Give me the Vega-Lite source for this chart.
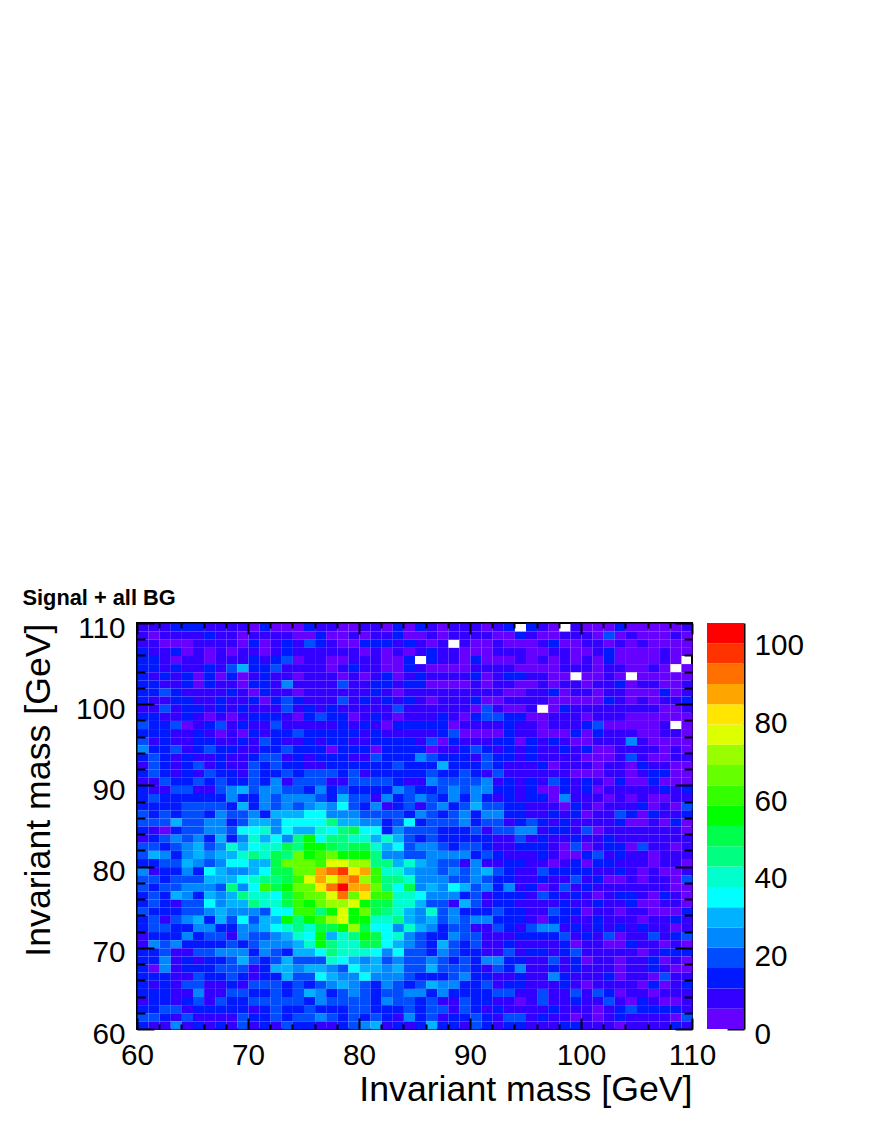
{"$schema":"https://vega.github.io/schema/vega-lite/v6.json","padding":{"left":19,"top":588,"right":0,"bottom":0},"background":"white","spacing":15,"bounds":"flush","config":{"view":{"stroke":null},"font":"Liberation Sans"},"title":{"text":"Signal + all BG","anchor":"start","frame":"bounds","fontSize":21.8,"fontWeight":"bold","font":"Liberation Sans","offset":2,"dx":3},"hconcat":[{"width":555,"height":406,"view":{"stroke":"black","strokeWidth":2},"layer":[{"data":{"values":[
{"x":60,"y":109,"n":8},{"x":61,"y":109,"n":8},{"x":62,"y":109,"n":8},{"x":63,"y":109,"n":13},{"x":64,"y":109,"n":13},{"x":65,"y":109,"n":13},{"x":66,"y":109,"n":8},{"x":67,"y":109,"n":8},{"x":68,"y":109,"n":8},{"x":69,"y":109,"n":8},{"x":70,"y":109,"n":3},{"x":71,"y":109,"n":13},{"x":72,"y":109,"n":3},{"x":73,"y":109,"n":3},{"x":74,"y":109,"n":3},{"x":75,"y":109,"n":13},{"x":76,"y":109,"n":8},{"x":77,"y":109,"n":8},{"x":78,"y":109,"n":3},{"x":79,"y":109,"n":3},{"x":80,"y":109,"n":8},{"x":81,"y":109,"n":8},{"x":82,"y":109,"n":3},{"x":83,"y":109,"n":13},{"x":84,"y":109,"n":3},{"x":85,"y":109,"n":13},{"x":86,"y":109,"n":8},{"x":87,"y":109,"n":3},{"x":88,"y":109,"n":8},{"x":89,"y":109,"n":8},{"x":90,"y":109,"n":8},{"x":91,"y":109,"n":3},{"x":92,"y":109,"n":8},{"x":93,"y":109,"n":13},{"x":95,"y":109,"n":13},{"x":96,"y":109,"n":8},{"x":97,"y":109,"n":3},{"x":99,"y":109,"n":8},{"x":100,"y":109,"n":3},{"x":101,"y":109,"n":3},{"x":102,"y":109,"n":3},{"x":103,"y":109,"n":13},{"x":104,"y":109,"n":3},{"x":105,"y":109,"n":3},{"x":106,"y":109,"n":3},{"x":107,"y":109,"n":3},{"x":108,"y":109,"n":3},{"x":109,"y":109,"n":8},
{"x":60,"y":108,"n":8},{"x":61,"y":108,"n":3},{"x":62,"y":108,"n":8},{"x":63,"y":108,"n":8},{"x":64,"y":108,"n":8},{"x":65,"y":108,"n":8},{"x":66,"y":108,"n":13},{"x":67,"y":108,"n":8},{"x":68,"y":108,"n":8},{"x":69,"y":108,"n":3},{"x":70,"y":108,"n":8},{"x":71,"y":108,"n":8},{"x":72,"y":108,"n":8},{"x":73,"y":108,"n":8},{"x":74,"y":108,"n":3},{"x":75,"y":108,"n":3},{"x":76,"y":108,"n":13},{"x":77,"y":108,"n":3},{"x":78,"y":108,"n":3},{"x":79,"y":108,"n":8},{"x":80,"y":108,"n":3},{"x":81,"y":108,"n":8},{"x":82,"y":108,"n":8},{"x":83,"y":108,"n":13},{"x":84,"y":108,"n":3},{"x":85,"y":108,"n":3},{"x":86,"y":108,"n":8},{"x":87,"y":108,"n":3},{"x":88,"y":108,"n":8},{"x":89,"y":108,"n":8},{"x":90,"y":108,"n":8},{"x":91,"y":108,"n":8},{"x":92,"y":108,"n":3},{"x":93,"y":108,"n":3},{"x":94,"y":108,"n":13},{"x":95,"y":108,"n":8},{"x":96,"y":108,"n":3},{"x":97,"y":108,"n":3},{"x":98,"y":108,"n":8},{"x":99,"y":108,"n":8},{"x":100,"y":108,"n":8},{"x":101,"y":108,"n":3},{"x":102,"y":108,"n":18},{"x":103,"y":108,"n":3},{"x":104,"y":108,"n":8},{"x":105,"y":108,"n":3},{"x":106,"y":108,"n":3},{"x":107,"y":108,"n":3},{"x":108,"y":108,"n":8},{"x":109,"y":108,"n":3},
{"x":60,"y":107,"n":8},{"x":61,"y":107,"n":8},{"x":62,"y":107,"n":3},{"x":63,"y":107,"n":3},{"x":64,"y":107,"n":3},{"x":65,"y":107,"n":8},{"x":66,"y":107,"n":8},{"x":67,"y":107,"n":8},{"x":68,"y":107,"n":8},{"x":69,"y":107,"n":3},{"x":70,"y":107,"n":13},{"x":71,"y":107,"n":3},{"x":72,"y":107,"n":8},{"x":73,"y":107,"n":13},{"x":74,"y":107,"n":8},{"x":75,"y":107,"n":18},{"x":76,"y":107,"n":13},{"x":77,"y":107,"n":8},{"x":78,"y":107,"n":3},{"x":79,"y":107,"n":3},{"x":80,"y":107,"n":13},{"x":81,"y":107,"n":13},{"x":82,"y":107,"n":13},{"x":83,"y":107,"n":8},{"x":84,"y":107,"n":13},{"x":85,"y":107,"n":8},{"x":86,"y":107,"n":3},{"x":87,"y":107,"n":8},{"x":89,"y":107,"n":8},{"x":90,"y":107,"n":3},{"x":91,"y":107,"n":3},{"x":92,"y":107,"n":8},{"x":93,"y":107,"n":3},{"x":94,"y":107,"n":3},{"x":95,"y":107,"n":3},{"x":96,"y":107,"n":8},{"x":97,"y":107,"n":13},{"x":98,"y":107,"n":3},{"x":99,"y":107,"n":3},{"x":100,"y":107,"n":8},{"x":101,"y":107,"n":8},{"x":102,"y":107,"n":3},{"x":103,"y":107,"n":8},{"x":104,"y":107,"n":3},{"x":105,"y":107,"n":8},{"x":106,"y":107,"n":3},{"x":107,"y":107,"n":3},{"x":108,"y":107,"n":3},{"x":109,"y":107,"n":3},
{"x":60,"y":106,"n":13},{"x":61,"y":106,"n":8},{"x":62,"y":106,"n":8},{"x":63,"y":106,"n":13},{"x":64,"y":106,"n":3},{"x":65,"y":106,"n":8},{"x":66,"y":106,"n":3},{"x":67,"y":106,"n":8},{"x":68,"y":106,"n":3},{"x":69,"y":106,"n":8},{"x":70,"y":106,"n":8},{"x":71,"y":106,"n":3},{"x":72,"y":106,"n":8},{"x":73,"y":106,"n":13},{"x":74,"y":106,"n":8},{"x":75,"y":106,"n":8},{"x":76,"y":106,"n":8},{"x":77,"y":106,"n":8},{"x":78,"y":106,"n":8},{"x":79,"y":106,"n":8},{"x":80,"y":106,"n":3},{"x":81,"y":106,"n":8},{"x":82,"y":106,"n":3},{"x":83,"y":106,"n":8},{"x":84,"y":106,"n":3},{"x":85,"y":106,"n":8},{"x":86,"y":106,"n":13},{"x":87,"y":106,"n":8},{"x":88,"y":106,"n":8},{"x":89,"y":106,"n":3},{"x":90,"y":106,"n":3},{"x":91,"y":106,"n":3},{"x":92,"y":106,"n":8},{"x":93,"y":106,"n":8},{"x":94,"y":106,"n":8},{"x":95,"y":106,"n":3},{"x":96,"y":106,"n":3},{"x":97,"y":106,"n":8},{"x":98,"y":106,"n":8},{"x":99,"y":106,"n":3},{"x":100,"y":106,"n":3},{"x":101,"y":106,"n":8},{"x":102,"y":106,"n":13},{"x":103,"y":106,"n":3},{"x":104,"y":106,"n":3},{"x":105,"y":106,"n":3},{"x":106,"y":106,"n":3},{"x":107,"y":106,"n":8},{"x":108,"y":106,"n":3},{"x":109,"y":106,"n":3},
{"x":60,"y":105,"n":13},{"x":61,"y":105,"n":13},{"x":62,"y":105,"n":8},{"x":63,"y":105,"n":3},{"x":64,"y":105,"n":8},{"x":65,"y":105,"n":8},{"x":66,"y":105,"n":3},{"x":67,"y":105,"n":8},{"x":68,"y":105,"n":8},{"x":69,"y":105,"n":8},{"x":70,"y":105,"n":13},{"x":71,"y":105,"n":8},{"x":72,"y":105,"n":13},{"x":73,"y":105,"n":18},{"x":74,"y":105,"n":3},{"x":75,"y":105,"n":8},{"x":76,"y":105,"n":8},{"x":77,"y":105,"n":3},{"x":78,"y":105,"n":3},{"x":79,"y":105,"n":8},{"x":80,"y":105,"n":8},{"x":81,"y":105,"n":8},{"x":82,"y":105,"n":3},{"x":83,"y":105,"n":3},{"x":84,"y":105,"n":13},{"x":86,"y":105,"n":13},{"x":87,"y":105,"n":8},{"x":88,"y":105,"n":8},{"x":89,"y":105,"n":3},{"x":90,"y":105,"n":13},{"x":91,"y":105,"n":3},{"x":92,"y":105,"n":3},{"x":93,"y":105,"n":3},{"x":94,"y":105,"n":8},{"x":95,"y":105,"n":3},{"x":96,"y":105,"n":8},{"x":97,"y":105,"n":3},{"x":98,"y":105,"n":8},{"x":99,"y":105,"n":3},{"x":100,"y":105,"n":8},{"x":101,"y":105,"n":3},{"x":102,"y":105,"n":13},{"x":103,"y":105,"n":3},{"x":104,"y":105,"n":3},{"x":105,"y":105,"n":3},{"x":106,"y":105,"n":3},{"x":107,"y":105,"n":8},{"x":108,"y":105,"n":3},
{"x":60,"y":104,"n":13},{"x":61,"y":104,"n":13},{"x":62,"y":104,"n":8},{"x":63,"y":104,"n":13},{"x":64,"y":104,"n":8},{"x":65,"y":104,"n":8},{"x":66,"y":104,"n":13},{"x":67,"y":104,"n":8},{"x":68,"y":104,"n":18},{"x":69,"y":104,"n":29},{"x":70,"y":104,"n":13},{"x":71,"y":104,"n":13},{"x":72,"y":104,"n":18},{"x":73,"y":104,"n":8},{"x":74,"y":104,"n":8},{"x":75,"y":104,"n":8},{"x":76,"y":104,"n":8},{"x":77,"y":104,"n":3},{"x":78,"y":104,"n":8},{"x":79,"y":104,"n":13},{"x":80,"y":104,"n":8},{"x":81,"y":104,"n":8},{"x":82,"y":104,"n":3},{"x":83,"y":104,"n":3},{"x":84,"y":104,"n":13},{"x":85,"y":104,"n":8},{"x":86,"y":104,"n":3},{"x":87,"y":104,"n":3},{"x":88,"y":104,"n":3},{"x":89,"y":104,"n":3},{"x":90,"y":104,"n":8},{"x":91,"y":104,"n":8},{"x":92,"y":104,"n":8},{"x":93,"y":104,"n":8},{"x":94,"y":104,"n":3},{"x":95,"y":104,"n":3},{"x":96,"y":104,"n":3},{"x":97,"y":104,"n":3},{"x":98,"y":104,"n":8},{"x":99,"y":104,"n":8},{"x":100,"y":104,"n":8},{"x":101,"y":104,"n":3},{"x":102,"y":104,"n":8},{"x":103,"y":104,"n":8},{"x":104,"y":104,"n":3},{"x":105,"y":104,"n":3},{"x":106,"y":104,"n":8},{"x":107,"y":104,"n":3},{"x":109,"y":104,"n":3},
{"x":60,"y":103,"n":13},{"x":61,"y":103,"n":8},{"x":62,"y":103,"n":13},{"x":63,"y":103,"n":8},{"x":64,"y":103,"n":13},{"x":65,"y":103,"n":3},{"x":66,"y":103,"n":13},{"x":67,"y":103,"n":3},{"x":68,"y":103,"n":13},{"x":69,"y":103,"n":3},{"x":70,"y":103,"n":8},{"x":71,"y":103,"n":13},{"x":72,"y":103,"n":8},{"x":73,"y":103,"n":8},{"x":74,"y":103,"n":3},{"x":75,"y":103,"n":8},{"x":76,"y":103,"n":8},{"x":77,"y":103,"n":8},{"x":78,"y":103,"n":3},{"x":79,"y":103,"n":8},{"x":80,"y":103,"n":3},{"x":81,"y":103,"n":8},{"x":82,"y":103,"n":13},{"x":83,"y":103,"n":3},{"x":84,"y":103,"n":8},{"x":85,"y":103,"n":13},{"x":86,"y":103,"n":8},{"x":87,"y":103,"n":8},{"x":88,"y":103,"n":8},{"x":89,"y":103,"n":8},{"x":90,"y":103,"n":13},{"x":91,"y":103,"n":3},{"x":92,"y":103,"n":8},{"x":93,"y":103,"n":13},{"x":94,"y":103,"n":13},{"x":95,"y":103,"n":8},{"x":96,"y":103,"n":8},{"x":97,"y":103,"n":3},{"x":98,"y":103,"n":3},{"x":100,"y":103,"n":3},{"x":101,"y":103,"n":3},{"x":102,"y":103,"n":8},{"x":103,"y":103,"n":3},{"x":105,"y":103,"n":3},{"x":106,"y":103,"n":3},{"x":107,"y":103,"n":3},{"x":108,"y":103,"n":3},{"x":109,"y":103,"n":3},
{"x":60,"y":102,"n":13},{"x":61,"y":102,"n":13},{"x":62,"y":102,"n":8},{"x":63,"y":102,"n":8},{"x":64,"y":102,"n":13},{"x":65,"y":102,"n":3},{"x":66,"y":102,"n":13},{"x":67,"y":102,"n":8},{"x":68,"y":102,"n":8},{"x":69,"y":102,"n":3},{"x":70,"y":102,"n":13},{"x":71,"y":102,"n":13},{"x":72,"y":102,"n":8},{"x":73,"y":102,"n":24},{"x":74,"y":102,"n":8},{"x":75,"y":102,"n":8},{"x":76,"y":102,"n":8},{"x":77,"y":102,"n":8},{"x":78,"y":102,"n":18},{"x":79,"y":102,"n":8},{"x":80,"y":102,"n":8},{"x":81,"y":102,"n":13},{"x":82,"y":102,"n":13},{"x":83,"y":102,"n":8},{"x":84,"y":102,"n":13},{"x":85,"y":102,"n":13},{"x":86,"y":102,"n":3},{"x":87,"y":102,"n":3},{"x":88,"y":102,"n":3},{"x":89,"y":102,"n":3},{"x":90,"y":102,"n":8},{"x":91,"y":102,"n":3},{"x":92,"y":102,"n":8},{"x":93,"y":102,"n":8},{"x":94,"y":102,"n":3},{"x":95,"y":102,"n":3},{"x":96,"y":102,"n":8},{"x":97,"y":102,"n":3},{"x":98,"y":102,"n":8},{"x":99,"y":102,"n":8},{"x":100,"y":102,"n":3},{"x":101,"y":102,"n":8},{"x":102,"y":102,"n":8},{"x":103,"y":102,"n":13},{"x":104,"y":102,"n":3},{"x":105,"y":102,"n":8},{"x":106,"y":102,"n":8},{"x":107,"y":102,"n":3},{"x":108,"y":102,"n":3},{"x":109,"y":102,"n":8},
{"x":60,"y":101,"n":13},{"x":61,"y":101,"n":13},{"x":62,"y":101,"n":18},{"x":63,"y":101,"n":13},{"x":64,"y":101,"n":8},{"x":65,"y":101,"n":8},{"x":66,"y":101,"n":8},{"x":67,"y":101,"n":8},{"x":68,"y":101,"n":13},{"x":69,"y":101,"n":8},{"x":70,"y":101,"n":3},{"x":71,"y":101,"n":13},{"x":72,"y":101,"n":8},{"x":73,"y":101,"n":8},{"x":74,"y":101,"n":3},{"x":75,"y":101,"n":8},{"x":76,"y":101,"n":8},{"x":77,"y":101,"n":8},{"x":78,"y":101,"n":8},{"x":79,"y":101,"n":8},{"x":80,"y":101,"n":8},{"x":81,"y":101,"n":13},{"x":82,"y":101,"n":8},{"x":83,"y":101,"n":3},{"x":84,"y":101,"n":8},{"x":85,"y":101,"n":8},{"x":86,"y":101,"n":8},{"x":87,"y":101,"n":8},{"x":88,"y":101,"n":8},{"x":89,"y":101,"n":8},{"x":90,"y":101,"n":8},{"x":91,"y":101,"n":8},{"x":92,"y":101,"n":8},{"x":93,"y":101,"n":3},{"x":94,"y":101,"n":3},{"x":95,"y":101,"n":8},{"x":96,"y":101,"n":8},{"x":97,"y":101,"n":13},{"x":98,"y":101,"n":3},{"x":99,"y":101,"n":8},{"x":100,"y":101,"n":8},{"x":101,"y":101,"n":3},{"x":102,"y":101,"n":8},{"x":103,"y":101,"n":8},{"x":104,"y":101,"n":3},{"x":105,"y":101,"n":3},{"x":106,"y":101,"n":3},{"x":107,"y":101,"n":13},{"x":108,"y":101,"n":3},{"x":109,"y":101,"n":8},
{"x":60,"y":100,"n":13},{"x":61,"y":100,"n":8},{"x":62,"y":100,"n":8},{"x":63,"y":100,"n":13},{"x":64,"y":100,"n":13},{"x":65,"y":100,"n":8},{"x":66,"y":100,"n":8},{"x":67,"y":100,"n":13},{"x":68,"y":100,"n":8},{"x":69,"y":100,"n":8},{"x":70,"y":100,"n":13},{"x":71,"y":100,"n":3},{"x":72,"y":100,"n":13},{"x":73,"y":100,"n":18},{"x":74,"y":100,"n":13},{"x":75,"y":100,"n":8},{"x":76,"y":100,"n":8},{"x":77,"y":100,"n":8},{"x":78,"y":100,"n":18},{"x":79,"y":100,"n":8},{"x":80,"y":100,"n":13},{"x":81,"y":100,"n":8},{"x":82,"y":100,"n":13},{"x":83,"y":100,"n":8},{"x":84,"y":100,"n":13},{"x":85,"y":100,"n":8},{"x":86,"y":100,"n":3},{"x":87,"y":100,"n":8},{"x":88,"y":100,"n":8},{"x":89,"y":100,"n":8},{"x":90,"y":100,"n":13},{"x":91,"y":100,"n":3},{"x":92,"y":100,"n":3},{"x":93,"y":100,"n":8},{"x":94,"y":100,"n":8},{"x":95,"y":100,"n":8},{"x":96,"y":100,"n":8},{"x":97,"y":100,"n":3},{"x":98,"y":100,"n":3},{"x":99,"y":100,"n":3},{"x":100,"y":100,"n":3},{"x":101,"y":100,"n":3},{"x":102,"y":100,"n":13},{"x":103,"y":100,"n":8},{"x":104,"y":100,"n":3},{"x":105,"y":100,"n":8},{"x":106,"y":100,"n":3},{"x":107,"y":100,"n":8},{"x":108,"y":100,"n":8},{"x":109,"y":100,"n":13},
{"x":60,"y":99,"n":8},{"x":61,"y":99,"n":8},{"x":62,"y":99,"n":18},{"x":63,"y":99,"n":8},{"x":64,"y":99,"n":13},{"x":65,"y":99,"n":13},{"x":66,"y":99,"n":8},{"x":67,"y":99,"n":13},{"x":68,"y":99,"n":8},{"x":69,"y":99,"n":13},{"x":70,"y":99,"n":8},{"x":71,"y":99,"n":8},{"x":72,"y":99,"n":8},{"x":73,"y":99,"n":18},{"x":74,"y":99,"n":8},{"x":75,"y":99,"n":13},{"x":76,"y":99,"n":8},{"x":77,"y":99,"n":13},{"x":78,"y":99,"n":8},{"x":79,"y":99,"n":8},{"x":80,"y":99,"n":8},{"x":81,"y":99,"n":8},{"x":82,"y":99,"n":8},{"x":83,"y":99,"n":18},{"x":84,"y":99,"n":8},{"x":85,"y":99,"n":8},{"x":86,"y":99,"n":8},{"x":87,"y":99,"n":8},{"x":88,"y":99,"n":8},{"x":89,"y":99,"n":8},{"x":90,"y":99,"n":3},{"x":91,"y":99,"n":18},{"x":92,"y":99,"n":8},{"x":93,"y":99,"n":3},{"x":94,"y":99,"n":3},{"x":95,"y":99,"n":8},{"x":97,"y":99,"n":3},{"x":98,"y":99,"n":13},{"x":99,"y":99,"n":8},{"x":100,"y":99,"n":8},{"x":101,"y":99,"n":8},{"x":102,"y":99,"n":8},{"x":103,"y":99,"n":8},{"x":104,"y":99,"n":8},{"x":105,"y":99,"n":8},{"x":106,"y":99,"n":8},{"x":107,"y":99,"n":3},{"x":108,"y":99,"n":3},{"x":109,"y":99,"n":8},
{"x":60,"y":98,"n":13},{"x":61,"y":98,"n":13},{"x":62,"y":98,"n":8},{"x":63,"y":98,"n":8},{"x":64,"y":98,"n":13},{"x":65,"y":98,"n":8},{"x":66,"y":98,"n":3},{"x":67,"y":98,"n":8},{"x":68,"y":98,"n":3},{"x":69,"y":98,"n":8},{"x":70,"y":98,"n":13},{"x":71,"y":98,"n":13},{"x":72,"y":98,"n":13},{"x":73,"y":98,"n":8},{"x":74,"y":98,"n":3},{"x":75,"y":98,"n":13},{"x":76,"y":98,"n":18},{"x":77,"y":98,"n":13},{"x":78,"y":98,"n":13},{"x":79,"y":98,"n":3},{"x":80,"y":98,"n":8},{"x":81,"y":98,"n":13},{"x":82,"y":98,"n":8},{"x":83,"y":98,"n":3},{"x":84,"y":98,"n":8},{"x":85,"y":98,"n":8},{"x":86,"y":98,"n":8},{"x":87,"y":98,"n":13},{"x":88,"y":98,"n":8},{"x":89,"y":98,"n":3},{"x":90,"y":98,"n":13},{"x":91,"y":98,"n":18},{"x":92,"y":98,"n":18},{"x":93,"y":98,"n":13},{"x":94,"y":98,"n":13},{"x":95,"y":98,"n":3},{"x":96,"y":98,"n":3},{"x":97,"y":98,"n":8},{"x":98,"y":98,"n":8},{"x":99,"y":98,"n":8},{"x":100,"y":98,"n":3},{"x":101,"y":98,"n":8},{"x":102,"y":98,"n":8},{"x":103,"y":98,"n":8},{"x":104,"y":98,"n":3},{"x":105,"y":98,"n":3},{"x":106,"y":98,"n":3},{"x":107,"y":98,"n":3},{"x":108,"y":98,"n":3},{"x":109,"y":98,"n":3},
{"x":60,"y":97,"n":18},{"x":61,"y":97,"n":13},{"x":62,"y":97,"n":13},{"x":63,"y":97,"n":18},{"x":64,"y":97,"n":3},{"x":65,"y":97,"n":8},{"x":66,"y":97,"n":13},{"x":67,"y":97,"n":18},{"x":68,"y":97,"n":8},{"x":69,"y":97,"n":13},{"x":70,"y":97,"n":8},{"x":71,"y":97,"n":8},{"x":72,"y":97,"n":18},{"x":73,"y":97,"n":8},{"x":74,"y":97,"n":8},{"x":75,"y":97,"n":8},{"x":76,"y":97,"n":8},{"x":77,"y":97,"n":8},{"x":78,"y":97,"n":13},{"x":79,"y":97,"n":8},{"x":80,"y":97,"n":13},{"x":81,"y":97,"n":8},{"x":82,"y":97,"n":3},{"x":83,"y":97,"n":13},{"x":84,"y":97,"n":13},{"x":85,"y":97,"n":13},{"x":86,"y":97,"n":13},{"x":87,"y":97,"n":13},{"x":88,"y":97,"n":3},{"x":89,"y":97,"n":8},{"x":90,"y":97,"n":8},{"x":91,"y":97,"n":8},{"x":92,"y":97,"n":8},{"x":93,"y":97,"n":13},{"x":94,"y":97,"n":8},{"x":95,"y":97,"n":8},{"x":96,"y":97,"n":3},{"x":97,"y":97,"n":8},{"x":98,"y":97,"n":8},{"x":99,"y":97,"n":8},{"x":100,"y":97,"n":13},{"x":101,"y":97,"n":18},{"x":102,"y":97,"n":3},{"x":103,"y":97,"n":3},{"x":104,"y":97,"n":3},{"x":105,"y":97,"n":3},{"x":106,"y":97,"n":3},{"x":107,"y":97,"n":8},{"x":109,"y":97,"n":3},
{"x":60,"y":96,"n":13},{"x":61,"y":96,"n":13},{"x":62,"y":96,"n":13},{"x":63,"y":96,"n":8},{"x":64,"y":96,"n":8},{"x":65,"y":96,"n":13},{"x":66,"y":96,"n":8},{"x":67,"y":96,"n":3},{"x":68,"y":96,"n":8},{"x":69,"y":96,"n":3},{"x":70,"y":96,"n":13},{"x":71,"y":96,"n":8},{"x":72,"y":96,"n":13},{"x":73,"y":96,"n":13},{"x":74,"y":96,"n":18},{"x":75,"y":96,"n":13},{"x":76,"y":96,"n":13},{"x":77,"y":96,"n":13},{"x":78,"y":96,"n":13},{"x":79,"y":96,"n":13},{"x":80,"y":96,"n":8},{"x":81,"y":96,"n":13},{"x":82,"y":96,"n":8},{"x":83,"y":96,"n":8},{"x":84,"y":96,"n":8},{"x":85,"y":96,"n":8},{"x":86,"y":96,"n":8},{"x":87,"y":96,"n":13},{"x":88,"y":96,"n":18},{"x":89,"y":96,"n":3},{"x":90,"y":96,"n":3},{"x":91,"y":96,"n":3},{"x":92,"y":96,"n":3},{"x":93,"y":96,"n":13},{"x":94,"y":96,"n":8},{"x":95,"y":96,"n":8},{"x":96,"y":96,"n":3},{"x":97,"y":96,"n":3},{"x":98,"y":96,"n":3},{"x":99,"y":96,"n":13},{"x":100,"y":96,"n":3},{"x":101,"y":96,"n":13},{"x":102,"y":96,"n":8},{"x":103,"y":96,"n":8},{"x":104,"y":96,"n":8},{"x":105,"y":96,"n":3},{"x":106,"y":96,"n":3},{"x":107,"y":96,"n":8},{"x":108,"y":96,"n":8},{"x":109,"y":96,"n":3},
{"x":60,"y":95,"n":18},{"x":61,"y":95,"n":8},{"x":62,"y":95,"n":13},{"x":63,"y":95,"n":8},{"x":64,"y":95,"n":8},{"x":65,"y":95,"n":13},{"x":66,"y":95,"n":13},{"x":67,"y":95,"n":8},{"x":68,"y":95,"n":8},{"x":69,"y":95,"n":13},{"x":70,"y":95,"n":8},{"x":71,"y":95,"n":18},{"x":72,"y":95,"n":13},{"x":73,"y":95,"n":8},{"x":74,"y":95,"n":8},{"x":75,"y":95,"n":13},{"x":76,"y":95,"n":8},{"x":77,"y":95,"n":13},{"x":78,"y":95,"n":13},{"x":79,"y":95,"n":8},{"x":80,"y":95,"n":8},{"x":81,"y":95,"n":13},{"x":82,"y":95,"n":13},{"x":83,"y":95,"n":13},{"x":84,"y":95,"n":13},{"x":85,"y":95,"n":8},{"x":86,"y":95,"n":18},{"x":87,"y":95,"n":3},{"x":88,"y":95,"n":13},{"x":89,"y":95,"n":8},{"x":90,"y":95,"n":8},{"x":91,"y":95,"n":8},{"x":92,"y":95,"n":13},{"x":93,"y":95,"n":13},{"x":94,"y":95,"n":3},{"x":95,"y":95,"n":13},{"x":96,"y":95,"n":8},{"x":97,"y":95,"n":13},{"x":98,"y":95,"n":8},{"x":99,"y":95,"n":3},{"x":100,"y":95,"n":3},{"x":101,"y":95,"n":8},{"x":102,"y":95,"n":8},{"x":103,"y":95,"n":8},{"x":104,"y":95,"n":24},{"x":105,"y":95,"n":8},{"x":106,"y":95,"n":3},{"x":107,"y":95,"n":3},{"x":108,"y":95,"n":3},{"x":109,"y":95,"n":3},
{"x":60,"y":94,"n":24},{"x":61,"y":94,"n":13},{"x":62,"y":94,"n":13},{"x":63,"y":94,"n":18},{"x":64,"y":94,"n":8},{"x":65,"y":94,"n":13},{"x":66,"y":94,"n":18},{"x":67,"y":94,"n":13},{"x":68,"y":94,"n":13},{"x":69,"y":94,"n":8},{"x":70,"y":94,"n":8},{"x":71,"y":94,"n":13},{"x":72,"y":94,"n":13},{"x":73,"y":94,"n":18},{"x":74,"y":94,"n":13},{"x":75,"y":94,"n":13},{"x":76,"y":94,"n":13},{"x":77,"y":94,"n":3},{"x":78,"y":94,"n":13},{"x":79,"y":94,"n":13},{"x":80,"y":94,"n":13},{"x":81,"y":94,"n":3},{"x":82,"y":94,"n":13},{"x":83,"y":94,"n":13},{"x":84,"y":94,"n":13},{"x":85,"y":94,"n":13},{"x":86,"y":94,"n":3},{"x":87,"y":94,"n":8},{"x":88,"y":94,"n":8},{"x":89,"y":94,"n":13},{"x":90,"y":94,"n":18},{"x":91,"y":94,"n":13},{"x":92,"y":94,"n":8},{"x":93,"y":94,"n":13},{"x":94,"y":94,"n":8},{"x":95,"y":94,"n":13},{"x":96,"y":94,"n":8},{"x":97,"y":94,"n":8},{"x":98,"y":94,"n":13},{"x":99,"y":94,"n":8},{"x":100,"y":94,"n":13},{"x":101,"y":94,"n":3},{"x":102,"y":94,"n":3},{"x":103,"y":94,"n":8},{"x":104,"y":94,"n":8},{"x":105,"y":94,"n":8},{"x":106,"y":94,"n":8},{"x":107,"y":94,"n":3},{"x":108,"y":94,"n":8},{"x":109,"y":94,"n":3},
{"x":60,"y":93,"n":13},{"x":61,"y":93,"n":18},{"x":62,"y":93,"n":13},{"x":63,"y":93,"n":8},{"x":64,"y":93,"n":13},{"x":65,"y":93,"n":8},{"x":66,"y":93,"n":8},{"x":67,"y":93,"n":13},{"x":68,"y":93,"n":8},{"x":69,"y":93,"n":8},{"x":70,"y":93,"n":13},{"x":71,"y":93,"n":18},{"x":72,"y":93,"n":18},{"x":73,"y":93,"n":8},{"x":74,"y":93,"n":13},{"x":75,"y":93,"n":8},{"x":76,"y":93,"n":13},{"x":77,"y":93,"n":13},{"x":78,"y":93,"n":13},{"x":79,"y":93,"n":8},{"x":80,"y":93,"n":8},{"x":81,"y":93,"n":18},{"x":82,"y":93,"n":13},{"x":83,"y":93,"n":13},{"x":84,"y":93,"n":13},{"x":85,"y":93,"n":24},{"x":86,"y":93,"n":18},{"x":87,"y":93,"n":13},{"x":88,"y":93,"n":13},{"x":89,"y":93,"n":13},{"x":90,"y":93,"n":8},{"x":91,"y":93,"n":18},{"x":92,"y":93,"n":13},{"x":93,"y":93,"n":13},{"x":94,"y":93,"n":8},{"x":95,"y":93,"n":13},{"x":96,"y":93,"n":8},{"x":97,"y":93,"n":8},{"x":98,"y":93,"n":8},{"x":99,"y":93,"n":8},{"x":100,"y":93,"n":3},{"x":101,"y":93,"n":3},{"x":102,"y":93,"n":3},{"x":103,"y":93,"n":8},{"x":104,"y":93,"n":18},{"x":105,"y":93,"n":8},{"x":106,"y":93,"n":3},{"x":107,"y":93,"n":3},{"x":108,"y":93,"n":8},{"x":109,"y":93,"n":8},
{"x":60,"y":92,"n":8},{"x":61,"y":92,"n":18},{"x":62,"y":92,"n":13},{"x":63,"y":92,"n":8},{"x":64,"y":92,"n":13},{"x":65,"y":92,"n":18},{"x":66,"y":92,"n":8},{"x":67,"y":92,"n":13},{"x":68,"y":92,"n":8},{"x":69,"y":92,"n":8},{"x":70,"y":92,"n":18},{"x":71,"y":92,"n":13},{"x":72,"y":92,"n":18},{"x":73,"y":92,"n":13},{"x":74,"y":92,"n":13},{"x":75,"y":92,"n":8},{"x":76,"y":92,"n":8},{"x":77,"y":92,"n":13},{"x":78,"y":92,"n":13},{"x":79,"y":92,"n":13},{"x":80,"y":92,"n":13},{"x":81,"y":92,"n":13},{"x":82,"y":92,"n":13},{"x":83,"y":92,"n":18},{"x":84,"y":92,"n":13},{"x":85,"y":92,"n":13},{"x":86,"y":92,"n":13},{"x":87,"y":92,"n":29},{"x":88,"y":92,"n":13},{"x":89,"y":92,"n":13},{"x":90,"y":92,"n":13},{"x":91,"y":92,"n":18},{"x":92,"y":92,"n":13},{"x":93,"y":92,"n":8},{"x":94,"y":92,"n":8},{"x":95,"y":92,"n":8},{"x":96,"y":92,"n":13},{"x":97,"y":92,"n":3},{"x":98,"y":92,"n":8},{"x":99,"y":92,"n":8},{"x":100,"y":92,"n":8},{"x":101,"y":92,"n":3},{"x":102,"y":92,"n":8},{"x":103,"y":92,"n":8},{"x":104,"y":92,"n":3},{"x":105,"y":92,"n":13},{"x":106,"y":92,"n":8},{"x":107,"y":92,"n":8},{"x":108,"y":92,"n":3},{"x":109,"y":92,"n":3},
{"x":60,"y":91,"n":13},{"x":61,"y":91,"n":18},{"x":62,"y":91,"n":13},{"x":63,"y":91,"n":8},{"x":64,"y":91,"n":13},{"x":65,"y":91,"n":8},{"x":66,"y":91,"n":18},{"x":67,"y":91,"n":13},{"x":68,"y":91,"n":13},{"x":69,"y":91,"n":8},{"x":70,"y":91,"n":18},{"x":71,"y":91,"n":13},{"x":72,"y":91,"n":13},{"x":73,"y":91,"n":18},{"x":74,"y":91,"n":13},{"x":75,"y":91,"n":18},{"x":76,"y":91,"n":18},{"x":77,"y":91,"n":18},{"x":78,"y":91,"n":13},{"x":79,"y":91,"n":18},{"x":80,"y":91,"n":8},{"x":81,"y":91,"n":13},{"x":82,"y":91,"n":13},{"x":83,"y":91,"n":13},{"x":84,"y":91,"n":13},{"x":85,"y":91,"n":13},{"x":86,"y":91,"n":18},{"x":87,"y":91,"n":13},{"x":88,"y":91,"n":13},{"x":89,"y":91,"n":18},{"x":90,"y":91,"n":13},{"x":91,"y":91,"n":8},{"x":92,"y":91,"n":18},{"x":93,"y":91,"n":8},{"x":94,"y":91,"n":8},{"x":95,"y":91,"n":8},{"x":96,"y":91,"n":8},{"x":97,"y":91,"n":8},{"x":98,"y":91,"n":8},{"x":99,"y":91,"n":3},{"x":100,"y":91,"n":3},{"x":101,"y":91,"n":3},{"x":102,"y":91,"n":8},{"x":103,"y":91,"n":8},{"x":104,"y":91,"n":3},{"x":105,"y":91,"n":8},{"x":106,"y":91,"n":13},{"x":107,"y":91,"n":13},{"x":108,"y":91,"n":3},{"x":109,"y":91,"n":3},
{"x":60,"y":90,"n":8},{"x":61,"y":90,"n":8},{"x":62,"y":90,"n":18},{"x":63,"y":90,"n":13},{"x":64,"y":90,"n":13},{"x":65,"y":90,"n":18},{"x":66,"y":90,"n":13},{"x":67,"y":90,"n":18},{"x":68,"y":90,"n":13},{"x":69,"y":90,"n":13},{"x":70,"y":90,"n":18},{"x":71,"y":90,"n":13},{"x":72,"y":90,"n":24},{"x":73,"y":90,"n":8},{"x":74,"y":90,"n":18},{"x":75,"y":90,"n":18},{"x":76,"y":90,"n":18},{"x":77,"y":90,"n":8},{"x":78,"y":90,"n":8},{"x":79,"y":90,"n":18},{"x":80,"y":90,"n":18},{"x":81,"y":90,"n":18},{"x":82,"y":90,"n":18},{"x":83,"y":90,"n":13},{"x":84,"y":90,"n":8},{"x":85,"y":90,"n":8},{"x":86,"y":90,"n":24},{"x":87,"y":90,"n":18},{"x":88,"y":90,"n":18},{"x":89,"y":90,"n":18},{"x":90,"y":90,"n":18},{"x":91,"y":90,"n":24},{"x":92,"y":90,"n":8},{"x":93,"y":90,"n":13},{"x":94,"y":90,"n":8},{"x":95,"y":90,"n":13},{"x":96,"y":90,"n":8},{"x":97,"y":90,"n":18},{"x":98,"y":90,"n":13},{"x":99,"y":90,"n":8},{"x":100,"y":90,"n":13},{"x":101,"y":90,"n":8},{"x":102,"y":90,"n":3},{"x":103,"y":90,"n":13},{"x":104,"y":90,"n":3},{"x":105,"y":90,"n":3},{"x":106,"y":90,"n":13},{"x":107,"y":90,"n":3},{"x":108,"y":90,"n":3},{"x":109,"y":90,"n":3},
{"x":60,"y":89,"n":13},{"x":61,"y":89,"n":8},{"x":62,"y":89,"n":8},{"x":63,"y":89,"n":18},{"x":64,"y":89,"n":18},{"x":65,"y":89,"n":8},{"x":66,"y":89,"n":8},{"x":67,"y":89,"n":18},{"x":68,"y":89,"n":24},{"x":69,"y":89,"n":29},{"x":70,"y":89,"n":18},{"x":71,"y":89,"n":24},{"x":72,"y":89,"n":24},{"x":73,"y":89,"n":18},{"x":74,"y":89,"n":18},{"x":75,"y":89,"n":13},{"x":76,"y":89,"n":24},{"x":77,"y":89,"n":13},{"x":78,"y":89,"n":18},{"x":79,"y":89,"n":13},{"x":80,"y":89,"n":13},{"x":81,"y":89,"n":13},{"x":82,"y":89,"n":13},{"x":83,"y":89,"n":24},{"x":84,"y":89,"n":18},{"x":85,"y":89,"n":13},{"x":86,"y":89,"n":13},{"x":87,"y":89,"n":18},{"x":88,"y":89,"n":24},{"x":89,"y":89,"n":18},{"x":90,"y":89,"n":24},{"x":91,"y":89,"n":24},{"x":92,"y":89,"n":13},{"x":93,"y":89,"n":13},{"x":94,"y":89,"n":8},{"x":95,"y":89,"n":13},{"x":96,"y":89,"n":3},{"x":97,"y":89,"n":3},{"x":98,"y":89,"n":13},{"x":99,"y":89,"n":8},{"x":100,"y":89,"n":13},{"x":101,"y":89,"n":3},{"x":102,"y":89,"n":8},{"x":103,"y":89,"n":8},{"x":104,"y":89,"n":8},{"x":105,"y":89,"n":8},{"x":106,"y":89,"n":8},{"x":107,"y":89,"n":13},{"x":108,"y":89,"n":8},{"x":109,"y":89,"n":13},
{"x":60,"y":88,"n":13},{"x":61,"y":88,"n":18},{"x":62,"y":88,"n":13},{"x":63,"y":88,"n":13},{"x":64,"y":88,"n":13},{"x":65,"y":88,"n":13},{"x":66,"y":88,"n":13},{"x":67,"y":88,"n":13},{"x":68,"y":88,"n":24},{"x":69,"y":88,"n":13},{"x":70,"y":88,"n":13},{"x":71,"y":88,"n":24},{"x":72,"y":88,"n":18},{"x":73,"y":88,"n":24},{"x":74,"y":88,"n":24},{"x":75,"y":88,"n":24},{"x":76,"y":88,"n":18},{"x":77,"y":88,"n":13},{"x":78,"y":88,"n":29},{"x":79,"y":88,"n":18},{"x":80,"y":88,"n":18},{"x":81,"y":88,"n":8},{"x":82,"y":88,"n":24},{"x":83,"y":88,"n":13},{"x":84,"y":88,"n":18},{"x":85,"y":88,"n":24},{"x":86,"y":88,"n":18},{"x":87,"y":88,"n":13},{"x":88,"y":88,"n":24},{"x":89,"y":88,"n":13},{"x":90,"y":88,"n":24},{"x":91,"y":88,"n":13},{"x":92,"y":88,"n":8},{"x":93,"y":88,"n":13},{"x":94,"y":88,"n":8},{"x":95,"y":88,"n":13},{"x":96,"y":88,"n":13},{"x":97,"y":88,"n":3},{"x":98,"y":88,"n":24},{"x":99,"y":88,"n":8},{"x":100,"y":88,"n":8},{"x":101,"y":88,"n":8},{"x":102,"y":88,"n":3},{"x":103,"y":88,"n":8},{"x":104,"y":88,"n":3},{"x":105,"y":88,"n":8},{"x":106,"y":88,"n":3},{"x":107,"y":88,"n":3},{"x":108,"y":88,"n":8},{"x":109,"y":88,"n":8},
{"x":60,"y":87,"n":13},{"x":61,"y":87,"n":13},{"x":62,"y":87,"n":13},{"x":63,"y":87,"n":13},{"x":64,"y":87,"n":18},{"x":65,"y":87,"n":18},{"x":66,"y":87,"n":18},{"x":67,"y":87,"n":18},{"x":68,"y":87,"n":13},{"x":69,"y":87,"n":29},{"x":70,"y":87,"n":13},{"x":71,"y":87,"n":24},{"x":72,"y":87,"n":18},{"x":73,"y":87,"n":24},{"x":74,"y":87,"n":18},{"x":75,"y":87,"n":24},{"x":76,"y":87,"n":29},{"x":77,"y":87,"n":24},{"x":78,"y":87,"n":34},{"x":79,"y":87,"n":18},{"x":80,"y":87,"n":13},{"x":81,"y":87,"n":24},{"x":82,"y":87,"n":8},{"x":83,"y":87,"n":13},{"x":84,"y":87,"n":18},{"x":85,"y":87,"n":8},{"x":86,"y":87,"n":18},{"x":87,"y":87,"n":24},{"x":88,"y":87,"n":13},{"x":89,"y":87,"n":18},{"x":90,"y":87,"n":29},{"x":91,"y":87,"n":18},{"x":92,"y":87,"n":18},{"x":93,"y":87,"n":13},{"x":94,"y":87,"n":13},{"x":95,"y":87,"n":8},{"x":96,"y":87,"n":8},{"x":97,"y":87,"n":8},{"x":98,"y":87,"n":3},{"x":99,"y":87,"n":13},{"x":100,"y":87,"n":8},{"x":101,"y":87,"n":3},{"x":102,"y":87,"n":8},{"x":103,"y":87,"n":8},{"x":104,"y":87,"n":8},{"x":105,"y":87,"n":13},{"x":106,"y":87,"n":3},{"x":107,"y":87,"n":8},{"x":108,"y":87,"n":3},{"x":109,"y":87,"n":18},
{"x":60,"y":86,"n":18},{"x":61,"y":86,"n":13},{"x":62,"y":86,"n":18},{"x":63,"y":86,"n":13},{"x":64,"y":86,"n":18},{"x":65,"y":86,"n":18},{"x":66,"y":86,"n":13},{"x":67,"y":86,"n":24},{"x":68,"y":86,"n":18},{"x":69,"y":86,"n":18},{"x":70,"y":86,"n":24},{"x":71,"y":86,"n":13},{"x":72,"y":86,"n":29},{"x":73,"y":86,"n":29},{"x":74,"y":86,"n":29},{"x":75,"y":86,"n":34},{"x":76,"y":86,"n":34},{"x":77,"y":86,"n":24},{"x":78,"y":86,"n":24},{"x":79,"y":86,"n":24},{"x":80,"y":86,"n":18},{"x":81,"y":86,"n":18},{"x":82,"y":86,"n":18},{"x":83,"y":86,"n":18},{"x":84,"y":86,"n":13},{"x":85,"y":86,"n":24},{"x":86,"y":86,"n":18},{"x":87,"y":86,"n":13},{"x":88,"y":86,"n":18},{"x":89,"y":86,"n":24},{"x":90,"y":86,"n":13},{"x":91,"y":86,"n":24},{"x":92,"y":86,"n":24},{"x":93,"y":86,"n":13},{"x":94,"y":86,"n":13},{"x":95,"y":86,"n":8},{"x":96,"y":86,"n":8},{"x":97,"y":86,"n":13},{"x":98,"y":86,"n":8},{"x":99,"y":86,"n":13},{"x":100,"y":86,"n":3},{"x":101,"y":86,"n":8},{"x":102,"y":86,"n":8},{"x":103,"y":86,"n":18},{"x":104,"y":86,"n":13},{"x":105,"y":86,"n":3},{"x":106,"y":86,"n":13},{"x":107,"y":86,"n":8},{"x":108,"y":86,"n":8},{"x":109,"y":86,"n":13},
{"x":60,"y":85,"n":18},{"x":61,"y":85,"n":18},{"x":62,"y":85,"n":18},{"x":63,"y":85,"n":29},{"x":64,"y":85,"n":18},{"x":65,"y":85,"n":18},{"x":66,"y":85,"n":24},{"x":67,"y":85,"n":24},{"x":68,"y":85,"n":13},{"x":69,"y":85,"n":18},{"x":70,"y":85,"n":29},{"x":71,"y":85,"n":29},{"x":72,"y":85,"n":24},{"x":73,"y":85,"n":34},{"x":74,"y":85,"n":34},{"x":75,"y":85,"n":34},{"x":76,"y":85,"n":34},{"x":77,"y":85,"n":44},{"x":78,"y":85,"n":29},{"x":79,"y":85,"n":29},{"x":80,"y":85,"n":24},{"x":81,"y":85,"n":24},{"x":82,"y":85,"n":13},{"x":83,"y":85,"n":18},{"x":84,"y":85,"n":34},{"x":85,"y":85,"n":13},{"x":86,"y":85,"n":18},{"x":87,"y":85,"n":18},{"x":88,"y":85,"n":18},{"x":89,"y":85,"n":24},{"x":90,"y":85,"n":13},{"x":91,"y":85,"n":18},{"x":92,"y":85,"n":18},{"x":93,"y":85,"n":8},{"x":94,"y":85,"n":13},{"x":95,"y":85,"n":18},{"x":96,"y":85,"n":13},{"x":97,"y":85,"n":8},{"x":98,"y":85,"n":13},{"x":99,"y":85,"n":8},{"x":100,"y":85,"n":8},{"x":101,"y":85,"n":8},{"x":102,"y":85,"n":8},{"x":103,"y":85,"n":13},{"x":104,"y":85,"n":3},{"x":105,"y":85,"n":3},{"x":106,"y":85,"n":8},{"x":107,"y":85,"n":3},{"x":108,"y":85,"n":13},{"x":109,"y":85,"n":3},
{"x":60,"y":84,"n":13},{"x":61,"y":84,"n":8},{"x":62,"y":84,"n":3},{"x":63,"y":84,"n":13},{"x":64,"y":84,"n":18},{"x":65,"y":84,"n":18},{"x":66,"y":84,"n":24},{"x":67,"y":84,"n":24},{"x":68,"y":84,"n":18},{"x":69,"y":84,"n":34},{"x":70,"y":84,"n":34},{"x":71,"y":84,"n":39},{"x":72,"y":84,"n":24},{"x":73,"y":84,"n":34},{"x":74,"y":84,"n":29},{"x":75,"y":84,"n":29},{"x":76,"y":84,"n":39},{"x":77,"y":84,"n":34},{"x":78,"y":84,"n":44},{"x":79,"y":84,"n":50},{"x":80,"y":84,"n":34},{"x":81,"y":84,"n":34},{"x":82,"y":84,"n":13},{"x":83,"y":84,"n":24},{"x":84,"y":84,"n":18},{"x":85,"y":84,"n":18},{"x":86,"y":84,"n":18},{"x":87,"y":84,"n":13},{"x":88,"y":84,"n":13},{"x":89,"y":84,"n":13},{"x":90,"y":84,"n":18},{"x":91,"y":84,"n":8},{"x":92,"y":84,"n":18},{"x":93,"y":84,"n":18},{"x":94,"y":84,"n":24},{"x":95,"y":84,"n":24},{"x":96,"y":84,"n":8},{"x":97,"y":84,"n":13},{"x":98,"y":84,"n":13},{"x":99,"y":84,"n":8},{"x":100,"y":84,"n":18},{"x":101,"y":84,"n":3},{"x":102,"y":84,"n":8},{"x":103,"y":84,"n":8},{"x":104,"y":84,"n":8},{"x":105,"y":84,"n":8},{"x":106,"y":84,"n":8},{"x":107,"y":84,"n":8},{"x":108,"y":84,"n":8},{"x":109,"y":84,"n":3},
{"x":60,"y":83,"n":8},{"x":61,"y":83,"n":13},{"x":62,"y":83,"n":18},{"x":63,"y":83,"n":24},{"x":64,"y":83,"n":18},{"x":65,"y":83,"n":24},{"x":66,"y":83,"n":13},{"x":67,"y":83,"n":29},{"x":68,"y":83,"n":13},{"x":69,"y":83,"n":24},{"x":70,"y":83,"n":39},{"x":71,"y":83,"n":29},{"x":72,"y":83,"n":34},{"x":73,"y":83,"n":24},{"x":74,"y":83,"n":44},{"x":75,"y":83,"n":55},{"x":76,"y":83,"n":34},{"x":77,"y":83,"n":44},{"x":78,"y":83,"n":44},{"x":79,"y":83,"n":39},{"x":80,"y":83,"n":39},{"x":81,"y":83,"n":29},{"x":82,"y":83,"n":39},{"x":83,"y":83,"n":29},{"x":84,"y":83,"n":18},{"x":85,"y":83,"n":13},{"x":86,"y":83,"n":18},{"x":87,"y":83,"n":13},{"x":88,"y":83,"n":13},{"x":89,"y":83,"n":13},{"x":90,"y":83,"n":13},{"x":91,"y":83,"n":13},{"x":92,"y":83,"n":8},{"x":93,"y":83,"n":8},{"x":94,"y":83,"n":18},{"x":95,"y":83,"n":8},{"x":96,"y":83,"n":13},{"x":97,"y":83,"n":8},{"x":98,"y":83,"n":8},{"x":99,"y":83,"n":13},{"x":100,"y":83,"n":8},{"x":101,"y":83,"n":8},{"x":102,"y":83,"n":13},{"x":103,"y":83,"n":8},{"x":104,"y":83,"n":8},{"x":105,"y":83,"n":8},{"x":106,"y":83,"n":8},{"x":107,"y":83,"n":8},{"x":108,"y":83,"n":8},{"x":109,"y":83,"n":8},
{"x":60,"y":82,"n":18},{"x":61,"y":82,"n":18},{"x":62,"y":82,"n":13},{"x":63,"y":82,"n":18},{"x":64,"y":82,"n":24},{"x":65,"y":82,"n":29},{"x":66,"y":82,"n":18},{"x":67,"y":82,"n":24},{"x":68,"y":82,"n":39},{"x":69,"y":82,"n":29},{"x":70,"y":82,"n":34},{"x":71,"y":82,"n":39},{"x":72,"y":82,"n":39},{"x":73,"y":82,"n":50},{"x":74,"y":82,"n":44},{"x":75,"y":82,"n":55},{"x":76,"y":82,"n":55},{"x":77,"y":82,"n":50},{"x":78,"y":82,"n":44},{"x":79,"y":82,"n":50},{"x":80,"y":82,"n":50},{"x":81,"y":82,"n":39},{"x":82,"y":82,"n":29},{"x":83,"y":82,"n":34},{"x":84,"y":82,"n":18},{"x":85,"y":82,"n":24},{"x":86,"y":82,"n":24},{"x":87,"y":82,"n":18},{"x":88,"y":82,"n":13},{"x":89,"y":82,"n":18},{"x":90,"y":82,"n":18},{"x":91,"y":82,"n":13},{"x":92,"y":82,"n":8},{"x":93,"y":82,"n":8},{"x":94,"y":82,"n":13},{"x":95,"y":82,"n":13},{"x":96,"y":82,"n":13},{"x":97,"y":82,"n":8},{"x":98,"y":82,"n":3},{"x":99,"y":82,"n":18},{"x":100,"y":82,"n":3},{"x":101,"y":82,"n":8},{"x":102,"y":82,"n":13},{"x":103,"y":82,"n":13},{"x":104,"y":82,"n":3},{"x":105,"y":82,"n":18},{"x":106,"y":82,"n":8},{"x":107,"y":82,"n":8},{"x":108,"y":82,"n":3},{"x":109,"y":82,"n":8},
{"x":60,"y":81,"n":18},{"x":61,"y":81,"n":29},{"x":62,"y":81,"n":24},{"x":63,"y":81,"n":13},{"x":64,"y":81,"n":24},{"x":65,"y":81,"n":29},{"x":66,"y":81,"n":24},{"x":67,"y":81,"n":29},{"x":68,"y":81,"n":29},{"x":69,"y":81,"n":39},{"x":70,"y":81,"n":44},{"x":71,"y":81,"n":39},{"x":72,"y":81,"n":50},{"x":73,"y":81,"n":44},{"x":74,"y":81,"n":65},{"x":75,"y":81,"n":55},{"x":76,"y":81,"n":60},{"x":77,"y":81,"n":65},{"x":78,"y":81,"n":55},{"x":79,"y":81,"n":55},{"x":80,"y":81,"n":55},{"x":81,"y":81,"n":44},{"x":82,"y":81,"n":24},{"x":83,"y":81,"n":24},{"x":84,"y":81,"n":18},{"x":85,"y":81,"n":18},{"x":86,"y":81,"n":24},{"x":87,"y":81,"n":24},{"x":88,"y":81,"n":24},{"x":89,"y":81,"n":24},{"x":90,"y":81,"n":13},{"x":91,"y":81,"n":18},{"x":92,"y":81,"n":13},{"x":93,"y":81,"n":8},{"x":94,"y":81,"n":8},{"x":95,"y":81,"n":8},{"x":96,"y":81,"n":13},{"x":97,"y":81,"n":8},{"x":98,"y":81,"n":3},{"x":99,"y":81,"n":3},{"x":100,"y":81,"n":13},{"x":101,"y":81,"n":18},{"x":102,"y":81,"n":8},{"x":103,"y":81,"n":13},{"x":104,"y":81,"n":8},{"x":105,"y":81,"n":8},{"x":106,"y":81,"n":3},{"x":107,"y":81,"n":8},{"x":108,"y":81,"n":8},{"x":109,"y":81,"n":8},
{"x":60,"y":80,"n":13},{"x":61,"y":80,"n":13},{"x":62,"y":80,"n":18},{"x":63,"y":80,"n":18},{"x":64,"y":80,"n":29},{"x":65,"y":80,"n":24},{"x":66,"y":80,"n":18},{"x":67,"y":80,"n":24},{"x":68,"y":80,"n":34},{"x":69,"y":80,"n":34},{"x":70,"y":80,"n":29},{"x":71,"y":80,"n":29},{"x":72,"y":80,"n":50},{"x":73,"y":80,"n":65},{"x":74,"y":80,"n":65},{"x":75,"y":80,"n":65},{"x":76,"y":80,"n":60},{"x":77,"y":80,"n":76},{"x":78,"y":80,"n":76},{"x":79,"y":80,"n":71},{"x":80,"y":80,"n":71},{"x":81,"y":80,"n":44},{"x":82,"y":80,"n":44},{"x":83,"y":80,"n":29},{"x":84,"y":80,"n":39},{"x":85,"y":80,"n":29},{"x":86,"y":80,"n":24},{"x":87,"y":80,"n":18},{"x":88,"y":80,"n":18},{"x":89,"y":80,"n":8},{"x":90,"y":80,"n":24},{"x":91,"y":80,"n":8},{"x":92,"y":80,"n":8},{"x":93,"y":80,"n":13},{"x":94,"y":80,"n":13},{"x":95,"y":80,"n":8},{"x":96,"y":80,"n":8},{"x":97,"y":80,"n":3},{"x":98,"y":80,"n":8},{"x":99,"y":80,"n":13},{"x":100,"y":80,"n":3},{"x":101,"y":80,"n":13},{"x":102,"y":80,"n":13},{"x":103,"y":80,"n":8},{"x":104,"y":80,"n":8},{"x":105,"y":80,"n":8},{"x":106,"y":80,"n":3},{"x":107,"y":80,"n":8},{"x":108,"y":80,"n":8},{"x":109,"y":80,"n":3},
{"x":60,"y":79,"n":24},{"x":61,"y":79,"n":8},{"x":62,"y":79,"n":13},{"x":63,"y":79,"n":13},{"x":64,"y":79,"n":24},{"x":65,"y":79,"n":13},{"x":66,"y":79,"n":34},{"x":67,"y":79,"n":29},{"x":68,"y":79,"n":24},{"x":69,"y":79,"n":24},{"x":70,"y":79,"n":29},{"x":71,"y":79,"n":34},{"x":72,"y":79,"n":50},{"x":73,"y":79,"n":50},{"x":74,"y":79,"n":65},{"x":75,"y":79,"n":65},{"x":76,"y":79,"n":86},{"x":77,"y":79,"n":91},{"x":78,"y":79,"n":97},{"x":79,"y":79,"n":81},{"x":80,"y":79,"n":86},{"x":81,"y":79,"n":60},{"x":82,"y":79,"n":39},{"x":83,"y":79,"n":39},{"x":84,"y":79,"n":29},{"x":85,"y":79,"n":24},{"x":86,"y":79,"n":24},{"x":87,"y":79,"n":18},{"x":88,"y":79,"n":24},{"x":89,"y":79,"n":18},{"x":90,"y":79,"n":24},{"x":91,"y":79,"n":29},{"x":92,"y":79,"n":18},{"x":93,"y":79,"n":13},{"x":94,"y":79,"n":8},{"x":95,"y":79,"n":8},{"x":96,"y":79,"n":18},{"x":97,"y":79,"n":13},{"x":98,"y":79,"n":13},{"x":99,"y":79,"n":13},{"x":100,"y":79,"n":13},{"x":101,"y":79,"n":8},{"x":102,"y":79,"n":8},{"x":103,"y":79,"n":13},{"x":104,"y":79,"n":8},{"x":105,"y":79,"n":3},{"x":106,"y":79,"n":8},{"x":107,"y":79,"n":3},{"x":108,"y":79,"n":3},{"x":109,"y":79,"n":8},
{"x":60,"y":78,"n":18},{"x":61,"y":78,"n":18},{"x":62,"y":78,"n":13},{"x":63,"y":78,"n":18},{"x":64,"y":78,"n":18},{"x":65,"y":78,"n":18},{"x":66,"y":78,"n":29},{"x":67,"y":78,"n":29},{"x":68,"y":78,"n":29},{"x":69,"y":78,"n":34},{"x":70,"y":78,"n":39},{"x":71,"y":78,"n":44},{"x":72,"y":78,"n":44},{"x":73,"y":78,"n":50},{"x":74,"y":78,"n":60},{"x":75,"y":78,"n":76},{"x":76,"y":78,"n":86},{"x":77,"y":78,"n":76},{"x":78,"y":78,"n":86},{"x":79,"y":78,"n":91},{"x":80,"y":78,"n":71},{"x":81,"y":78,"n":60},{"x":82,"y":78,"n":44},{"x":83,"y":78,"n":44},{"x":84,"y":78,"n":39},{"x":85,"y":78,"n":24},{"x":86,"y":78,"n":24},{"x":87,"y":78,"n":24},{"x":88,"y":78,"n":18},{"x":89,"y":78,"n":18},{"x":90,"y":78,"n":24},{"x":91,"y":78,"n":18},{"x":92,"y":78,"n":13},{"x":93,"y":78,"n":13},{"x":94,"y":78,"n":8},{"x":95,"y":78,"n":8},{"x":96,"y":78,"n":13},{"x":97,"y":78,"n":8},{"x":98,"y":78,"n":8},{"x":99,"y":78,"n":18},{"x":100,"y":78,"n":8},{"x":101,"y":78,"n":13},{"x":102,"y":78,"n":3},{"x":103,"y":78,"n":3},{"x":104,"y":78,"n":8},{"x":105,"y":78,"n":3},{"x":106,"y":78,"n":8},{"x":107,"y":78,"n":8},{"x":108,"y":78,"n":3},{"x":109,"y":78,"n":18},
{"x":60,"y":77,"n":18},{"x":61,"y":77,"n":13},{"x":62,"y":77,"n":18},{"x":63,"y":77,"n":18},{"x":64,"y":77,"n":24},{"x":65,"y":77,"n":24},{"x":66,"y":77,"n":24},{"x":67,"y":77,"n":18},{"x":68,"y":77,"n":44},{"x":69,"y":77,"n":24},{"x":70,"y":77,"n":34},{"x":71,"y":77,"n":60},{"x":72,"y":77,"n":50},{"x":73,"y":77,"n":55},{"x":74,"y":77,"n":65},{"x":75,"y":77,"n":65},{"x":76,"y":77,"n":81},{"x":77,"y":77,"n":91},{"x":78,"y":77,"n":102},{"x":79,"y":77,"n":86},{"x":80,"y":77,"n":86},{"x":81,"y":77,"n":65},{"x":82,"y":77,"n":44},{"x":83,"y":77,"n":34},{"x":84,"y":77,"n":50},{"x":85,"y":77,"n":24},{"x":86,"y":77,"n":29},{"x":87,"y":77,"n":24},{"x":88,"y":77,"n":34},{"x":89,"y":77,"n":29},{"x":90,"y":77,"n":18},{"x":91,"y":77,"n":24},{"x":92,"y":77,"n":13},{"x":93,"y":77,"n":24},{"x":94,"y":77,"n":8},{"x":95,"y":77,"n":13},{"x":96,"y":77,"n":3},{"x":97,"y":77,"n":8},{"x":98,"y":77,"n":18},{"x":99,"y":77,"n":8},{"x":100,"y":77,"n":13},{"x":101,"y":77,"n":8},{"x":102,"y":77,"n":8},{"x":103,"y":77,"n":8},{"x":104,"y":77,"n":8},{"x":105,"y":77,"n":8},{"x":106,"y":77,"n":8},{"x":107,"y":77,"n":8},{"x":108,"y":77,"n":3},{"x":109,"y":77,"n":3},
{"x":60,"y":76,"n":13},{"x":61,"y":76,"n":18},{"x":62,"y":76,"n":13},{"x":63,"y":76,"n":29},{"x":64,"y":76,"n":24},{"x":65,"y":76,"n":13},{"x":66,"y":76,"n":29},{"x":67,"y":76,"n":24},{"x":68,"y":76,"n":29},{"x":69,"y":76,"n":44},{"x":70,"y":76,"n":39},{"x":71,"y":76,"n":39},{"x":72,"y":76,"n":34},{"x":73,"y":76,"n":50},{"x":74,"y":76,"n":60},{"x":75,"y":76,"n":65},{"x":76,"y":76,"n":65},{"x":77,"y":76,"n":76},{"x":78,"y":76,"n":91},{"x":79,"y":76,"n":65},{"x":80,"y":76,"n":81},{"x":81,"y":76,"n":60},{"x":82,"y":76,"n":60},{"x":83,"y":76,"n":39},{"x":84,"y":76,"n":39},{"x":85,"y":76,"n":34},{"x":86,"y":76,"n":24},{"x":87,"y":76,"n":24},{"x":88,"y":76,"n":24},{"x":89,"y":76,"n":13},{"x":90,"y":76,"n":18},{"x":91,"y":76,"n":8},{"x":92,"y":76,"n":13},{"x":93,"y":76,"n":13},{"x":94,"y":76,"n":13},{"x":95,"y":76,"n":8},{"x":96,"y":76,"n":18},{"x":97,"y":76,"n":13},{"x":98,"y":76,"n":8},{"x":99,"y":76,"n":13},{"x":100,"y":76,"n":8},{"x":101,"y":76,"n":3},{"x":102,"y":76,"n":8},{"x":103,"y":76,"n":13},{"x":104,"y":76,"n":13},{"x":105,"y":76,"n":8},{"x":106,"y":76,"n":3},{"x":107,"y":76,"n":13},{"x":108,"y":76,"n":8},{"x":109,"y":76,"n":3},
{"x":60,"y":75,"n":13},{"x":61,"y":75,"n":18},{"x":62,"y":75,"n":13},{"x":63,"y":75,"n":8},{"x":64,"y":75,"n":18},{"x":65,"y":75,"n":18},{"x":66,"y":75,"n":34},{"x":67,"y":75,"n":24},{"x":68,"y":75,"n":29},{"x":69,"y":75,"n":29},{"x":70,"y":75,"n":44},{"x":71,"y":75,"n":39},{"x":72,"y":75,"n":39},{"x":73,"y":75,"n":50},{"x":74,"y":75,"n":60},{"x":75,"y":75,"n":55},{"x":76,"y":75,"n":65},{"x":77,"y":75,"n":71},{"x":78,"y":75,"n":71},{"x":79,"y":75,"n":76},{"x":80,"y":75,"n":55},{"x":81,"y":75,"n":50},{"x":82,"y":75,"n":50},{"x":83,"y":75,"n":39},{"x":84,"y":75,"n":39},{"x":85,"y":75,"n":29},{"x":86,"y":75,"n":18},{"x":87,"y":75,"n":18},{"x":88,"y":75,"n":8},{"x":89,"y":75,"n":29},{"x":90,"y":75,"n":18},{"x":91,"y":75,"n":8},{"x":92,"y":75,"n":13},{"x":93,"y":75,"n":13},{"x":94,"y":75,"n":8},{"x":95,"y":75,"n":8},{"x":96,"y":75,"n":8},{"x":97,"y":75,"n":8},{"x":98,"y":75,"n":13},{"x":99,"y":75,"n":8},{"x":100,"y":75,"n":8},{"x":101,"y":75,"n":13},{"x":102,"y":75,"n":8},{"x":103,"y":75,"n":8},{"x":104,"y":75,"n":13},{"x":105,"y":75,"n":3},{"x":106,"y":75,"n":3},{"x":107,"y":75,"n":8},{"x":108,"y":75,"n":8},{"x":109,"y":75,"n":3},
{"x":60,"y":74,"n":18},{"x":61,"y":74,"n":13},{"x":62,"y":74,"n":13},{"x":63,"y":74,"n":13},{"x":64,"y":74,"n":18},{"x":65,"y":74,"n":18},{"x":66,"y":74,"n":24},{"x":67,"y":74,"n":29},{"x":68,"y":74,"n":24},{"x":69,"y":74,"n":24},{"x":70,"y":74,"n":24},{"x":71,"y":74,"n":18},{"x":72,"y":74,"n":34},{"x":73,"y":74,"n":34},{"x":74,"y":74,"n":60},{"x":75,"y":74,"n":60},{"x":76,"y":74,"n":44},{"x":77,"y":74,"n":55},{"x":78,"y":74,"n":76},{"x":79,"y":74,"n":55},{"x":80,"y":74,"n":65},{"x":81,"y":74,"n":50},{"x":82,"y":74,"n":44},{"x":83,"y":74,"n":39},{"x":84,"y":74,"n":29},{"x":85,"y":74,"n":24},{"x":86,"y":74,"n":39},{"x":87,"y":74,"n":18},{"x":88,"y":74,"n":24},{"x":89,"y":74,"n":13},{"x":90,"y":74,"n":13},{"x":91,"y":74,"n":13},{"x":92,"y":74,"n":18},{"x":93,"y":74,"n":13},{"x":94,"y":74,"n":13},{"x":95,"y":74,"n":8},{"x":96,"y":74,"n":8},{"x":97,"y":74,"n":18},{"x":98,"y":74,"n":13},{"x":99,"y":74,"n":13},{"x":100,"y":74,"n":3},{"x":101,"y":74,"n":8},{"x":102,"y":74,"n":8},{"x":103,"y":74,"n":3},{"x":104,"y":74,"n":8},{"x":105,"y":74,"n":8},{"x":106,"y":74,"n":3},{"x":107,"y":74,"n":3},{"x":108,"y":74,"n":3},{"x":109,"y":74,"n":13},
{"x":60,"y":73,"n":13},{"x":61,"y":73,"n":18},{"x":62,"y":73,"n":8},{"x":63,"y":73,"n":18},{"x":64,"y":73,"n":24},{"x":65,"y":73,"n":29},{"x":66,"y":73,"n":13},{"x":67,"y":73,"n":29},{"x":68,"y":73,"n":18},{"x":69,"y":73,"n":34},{"x":70,"y":73,"n":18},{"x":71,"y":73,"n":29},{"x":72,"y":73,"n":29},{"x":73,"y":73,"n":55},{"x":74,"y":73,"n":44},{"x":75,"y":73,"n":55},{"x":76,"y":73,"n":60},{"x":77,"y":73,"n":71},{"x":78,"y":73,"n":76},{"x":79,"y":73,"n":55},{"x":80,"y":73,"n":55},{"x":81,"y":73,"n":39},{"x":82,"y":73,"n":39},{"x":83,"y":73,"n":44},{"x":84,"y":73,"n":29},{"x":85,"y":73,"n":24},{"x":86,"y":73,"n":29},{"x":87,"y":73,"n":18},{"x":88,"y":73,"n":24},{"x":89,"y":73,"n":18},{"x":90,"y":73,"n":24},{"x":91,"y":73,"n":24},{"x":92,"y":73,"n":13},{"x":93,"y":73,"n":13},{"x":94,"y":73,"n":13},{"x":95,"y":73,"n":8},{"x":96,"y":73,"n":3},{"x":97,"y":73,"n":13},{"x":98,"y":73,"n":13},{"x":99,"y":73,"n":8},{"x":100,"y":73,"n":8},{"x":101,"y":73,"n":13},{"x":102,"y":73,"n":8},{"x":103,"y":73,"n":8},{"x":104,"y":73,"n":8},{"x":105,"y":73,"n":3},{"x":106,"y":73,"n":8},{"x":107,"y":73,"n":8},{"x":108,"y":73,"n":13},{"x":109,"y":73,"n":8},
{"x":60,"y":72,"n":13},{"x":61,"y":72,"n":18},{"x":62,"y":72,"n":18},{"x":63,"y":72,"n":13},{"x":64,"y":72,"n":13},{"x":65,"y":72,"n":24},{"x":66,"y":72,"n":24},{"x":67,"y":72,"n":13},{"x":68,"y":72,"n":13},{"x":69,"y":72,"n":24},{"x":70,"y":72,"n":24},{"x":71,"y":72,"n":29},{"x":72,"y":72,"n":34},{"x":73,"y":72,"n":39},{"x":74,"y":72,"n":44},{"x":75,"y":72,"n":39},{"x":76,"y":72,"n":50},{"x":77,"y":72,"n":50},{"x":78,"y":72,"n":55},{"x":79,"y":72,"n":71},{"x":80,"y":72,"n":50},{"x":81,"y":72,"n":34},{"x":82,"y":72,"n":34},{"x":83,"y":72,"n":24},{"x":84,"y":72,"n":39},{"x":85,"y":72,"n":29},{"x":86,"y":72,"n":24},{"x":87,"y":72,"n":13},{"x":88,"y":72,"n":18},{"x":89,"y":72,"n":18},{"x":90,"y":72,"n":8},{"x":91,"y":72,"n":8},{"x":92,"y":72,"n":18},{"x":93,"y":72,"n":13},{"x":94,"y":72,"n":8},{"x":95,"y":72,"n":18},{"x":96,"y":72,"n":24},{"x":97,"y":72,"n":24},{"x":98,"y":72,"n":8},{"x":99,"y":72,"n":13},{"x":100,"y":72,"n":8},{"x":101,"y":72,"n":13},{"x":102,"y":72,"n":8},{"x":103,"y":72,"n":13},{"x":104,"y":72,"n":8},{"x":105,"y":72,"n":13},{"x":106,"y":72,"n":8},{"x":107,"y":72,"n":8},{"x":108,"y":72,"n":3},{"x":109,"y":72,"n":8},
{"x":60,"y":71,"n":8},{"x":61,"y":71,"n":13},{"x":62,"y":71,"n":13},{"x":63,"y":71,"n":13},{"x":64,"y":71,"n":24},{"x":65,"y":71,"n":13},{"x":66,"y":71,"n":18},{"x":67,"y":71,"n":18},{"x":68,"y":71,"n":8},{"x":69,"y":71,"n":24},{"x":70,"y":71,"n":18},{"x":71,"y":71,"n":18},{"x":72,"y":71,"n":24},{"x":73,"y":71,"n":29},{"x":74,"y":71,"n":39},{"x":75,"y":71,"n":34},{"x":76,"y":71,"n":55},{"x":77,"y":71,"n":29},{"x":78,"y":71,"n":39},{"x":79,"y":71,"n":44},{"x":80,"y":71,"n":55},{"x":81,"y":71,"n":50},{"x":82,"y":71,"n":34},{"x":83,"y":71,"n":39},{"x":84,"y":71,"n":24},{"x":85,"y":71,"n":18},{"x":86,"y":71,"n":13},{"x":87,"y":71,"n":13},{"x":88,"y":71,"n":24},{"x":89,"y":71,"n":18},{"x":90,"y":71,"n":18},{"x":91,"y":71,"n":8},{"x":92,"y":71,"n":8},{"x":93,"y":71,"n":8},{"x":94,"y":71,"n":13},{"x":95,"y":71,"n":13},{"x":96,"y":71,"n":13},{"x":97,"y":71,"n":13},{"x":98,"y":71,"n":18},{"x":99,"y":71,"n":8},{"x":100,"y":71,"n":13},{"x":101,"y":71,"n":8},{"x":102,"y":71,"n":18},{"x":103,"y":71,"n":3},{"x":104,"y":71,"n":8},{"x":105,"y":71,"n":8},{"x":106,"y":71,"n":18},{"x":107,"y":71,"n":8},{"x":108,"y":71,"n":13},{"x":109,"y":71,"n":18},
{"x":60,"y":70,"n":8},{"x":61,"y":70,"n":24},{"x":62,"y":70,"n":18},{"x":63,"y":70,"n":24},{"x":64,"y":70,"n":13},{"x":65,"y":70,"n":13},{"x":66,"y":70,"n":13},{"x":67,"y":70,"n":13},{"x":68,"y":70,"n":18},{"x":69,"y":70,"n":13},{"x":70,"y":70,"n":18},{"x":71,"y":70,"n":24},{"x":72,"y":70,"n":24},{"x":73,"y":70,"n":24},{"x":74,"y":70,"n":29},{"x":75,"y":70,"n":39},{"x":76,"y":70,"n":55},{"x":77,"y":70,"n":44},{"x":78,"y":70,"n":39},{"x":79,"y":70,"n":39},{"x":80,"y":70,"n":50},{"x":81,"y":70,"n":50},{"x":82,"y":70,"n":34},{"x":83,"y":70,"n":29},{"x":84,"y":70,"n":24},{"x":85,"y":70,"n":18},{"x":86,"y":70,"n":13},{"x":87,"y":70,"n":29},{"x":88,"y":70,"n":18},{"x":89,"y":70,"n":13},{"x":90,"y":70,"n":18},{"x":91,"y":70,"n":8},{"x":92,"y":70,"n":8},{"x":93,"y":70,"n":13},{"x":94,"y":70,"n":8},{"x":95,"y":70,"n":8},{"x":96,"y":70,"n":8},{"x":97,"y":70,"n":8},{"x":98,"y":70,"n":13},{"x":99,"y":70,"n":3},{"x":100,"y":70,"n":8},{"x":101,"y":70,"n":8},{"x":102,"y":70,"n":3},{"x":103,"y":70,"n":3},{"x":104,"y":70,"n":13},{"x":105,"y":70,"n":8},{"x":106,"y":70,"n":8},{"x":107,"y":70,"n":3},{"x":108,"y":70,"n":8},{"x":109,"y":70,"n":3},
{"x":60,"y":69,"n":13},{"x":61,"y":69,"n":13},{"x":62,"y":69,"n":18},{"x":63,"y":69,"n":8},{"x":64,"y":69,"n":8},{"x":65,"y":69,"n":18},{"x":66,"y":69,"n":18},{"x":67,"y":69,"n":24},{"x":68,"y":69,"n":24},{"x":69,"y":69,"n":24},{"x":70,"y":69,"n":13},{"x":71,"y":69,"n":24},{"x":72,"y":69,"n":18},{"x":73,"y":69,"n":13},{"x":74,"y":69,"n":29},{"x":75,"y":69,"n":29},{"x":76,"y":69,"n":34},{"x":77,"y":69,"n":44},{"x":78,"y":69,"n":39},{"x":79,"y":69,"n":39},{"x":80,"y":69,"n":39},{"x":81,"y":69,"n":34},{"x":82,"y":69,"n":24},{"x":83,"y":69,"n":34},{"x":84,"y":69,"n":18},{"x":85,"y":69,"n":18},{"x":86,"y":69,"n":13},{"x":87,"y":69,"n":24},{"x":88,"y":69,"n":18},{"x":89,"y":69,"n":13},{"x":90,"y":69,"n":13},{"x":91,"y":69,"n":8},{"x":92,"y":69,"n":8},{"x":93,"y":69,"n":18},{"x":94,"y":69,"n":8},{"x":95,"y":69,"n":13},{"x":96,"y":69,"n":13},{"x":97,"y":69,"n":8},{"x":98,"y":69,"n":13},{"x":99,"y":69,"n":18},{"x":100,"y":69,"n":8},{"x":101,"y":69,"n":8},{"x":102,"y":69,"n":8},{"x":103,"y":69,"n":8},{"x":104,"y":69,"n":8},{"x":105,"y":69,"n":3},{"x":106,"y":69,"n":8},{"x":107,"y":69,"n":13},{"x":108,"y":69,"n":13},{"x":109,"y":69,"n":13},
{"x":60,"y":68,"n":13},{"x":61,"y":68,"n":13},{"x":62,"y":68,"n":24},{"x":63,"y":68,"n":8},{"x":64,"y":68,"n":13},{"x":65,"y":68,"n":8},{"x":66,"y":68,"n":13},{"x":67,"y":68,"n":13},{"x":68,"y":68,"n":18},{"x":69,"y":68,"n":29},{"x":70,"y":68,"n":18},{"x":71,"y":68,"n":13},{"x":72,"y":68,"n":18},{"x":73,"y":68,"n":29},{"x":74,"y":68,"n":18},{"x":75,"y":68,"n":18},{"x":76,"y":68,"n":18},{"x":77,"y":68,"n":39},{"x":78,"y":68,"n":34},{"x":79,"y":68,"n":29},{"x":80,"y":68,"n":24},{"x":81,"y":68,"n":29},{"x":82,"y":68,"n":18},{"x":83,"y":68,"n":24},{"x":84,"y":68,"n":18},{"x":85,"y":68,"n":18},{"x":86,"y":68,"n":24},{"x":87,"y":68,"n":18},{"x":88,"y":68,"n":13},{"x":89,"y":68,"n":18},{"x":90,"y":68,"n":13},{"x":91,"y":68,"n":24},{"x":92,"y":68,"n":24},{"x":93,"y":68,"n":13},{"x":94,"y":68,"n":13},{"x":95,"y":68,"n":8},{"x":96,"y":68,"n":8},{"x":97,"y":68,"n":18},{"x":98,"y":68,"n":8},{"x":99,"y":68,"n":13},{"x":100,"y":68,"n":3},{"x":101,"y":68,"n":8},{"x":102,"y":68,"n":8},{"x":103,"y":68,"n":3},{"x":104,"y":68,"n":8},{"x":105,"y":68,"n":8},{"x":106,"y":68,"n":13},{"x":107,"y":68,"n":3},{"x":108,"y":68,"n":8},{"x":109,"y":68,"n":3},
{"x":60,"y":67,"n":13},{"x":61,"y":67,"n":3},{"x":62,"y":67,"n":24},{"x":63,"y":67,"n":8},{"x":64,"y":67,"n":13},{"x":65,"y":67,"n":13},{"x":66,"y":67,"n":13},{"x":67,"y":67,"n":18},{"x":68,"y":67,"n":18},{"x":69,"y":67,"n":18},{"x":70,"y":67,"n":8},{"x":71,"y":67,"n":13},{"x":72,"y":67,"n":29},{"x":73,"y":67,"n":29},{"x":74,"y":67,"n":24},{"x":75,"y":67,"n":29},{"x":76,"y":67,"n":29},{"x":77,"y":67,"n":24},{"x":78,"y":67,"n":18},{"x":79,"y":67,"n":34},{"x":80,"y":67,"n":29},{"x":81,"y":67,"n":29},{"x":82,"y":67,"n":24},{"x":83,"y":67,"n":29},{"x":84,"y":67,"n":18},{"x":85,"y":67,"n":18},{"x":86,"y":67,"n":29},{"x":87,"y":67,"n":18},{"x":88,"y":67,"n":18},{"x":89,"y":67,"n":18},{"x":90,"y":67,"n":13},{"x":91,"y":67,"n":8},{"x":92,"y":67,"n":18},{"x":93,"y":67,"n":13},{"x":94,"y":67,"n":24},{"x":95,"y":67,"n":8},{"x":96,"y":67,"n":8},{"x":97,"y":67,"n":13},{"x":98,"y":67,"n":8},{"x":99,"y":67,"n":13},{"x":100,"y":67,"n":8},{"x":101,"y":67,"n":8},{"x":102,"y":67,"n":8},{"x":103,"y":67,"n":3},{"x":104,"y":67,"n":8},{"x":105,"y":67,"n":8},{"x":106,"y":67,"n":13},{"x":107,"y":67,"n":8},{"x":108,"y":67,"n":3},{"x":109,"y":67,"n":3},
{"x":60,"y":66,"n":13},{"x":61,"y":66,"n":13},{"x":62,"y":66,"n":13},{"x":63,"y":66,"n":8},{"x":64,"y":66,"n":8},{"x":65,"y":66,"n":18},{"x":66,"y":66,"n":13},{"x":67,"y":66,"n":13},{"x":68,"y":66,"n":18},{"x":69,"y":66,"n":13},{"x":70,"y":66,"n":8},{"x":71,"y":66,"n":13},{"x":72,"y":66,"n":13},{"x":73,"y":66,"n":29},{"x":74,"y":66,"n":18},{"x":75,"y":66,"n":18},{"x":76,"y":66,"n":34},{"x":77,"y":66,"n":29},{"x":78,"y":66,"n":24},{"x":79,"y":66,"n":24},{"x":80,"y":66,"n":34},{"x":81,"y":66,"n":24},{"x":82,"y":66,"n":24},{"x":83,"y":66,"n":24},{"x":84,"y":66,"n":18},{"x":85,"y":66,"n":13},{"x":86,"y":66,"n":13},{"x":87,"y":66,"n":13},{"x":88,"y":66,"n":18},{"x":89,"y":66,"n":24},{"x":90,"y":66,"n":13},{"x":91,"y":66,"n":13},{"x":92,"y":66,"n":8},{"x":93,"y":66,"n":8},{"x":94,"y":66,"n":13},{"x":95,"y":66,"n":8},{"x":96,"y":66,"n":8},{"x":97,"y":66,"n":24},{"x":98,"y":66,"n":13},{"x":99,"y":66,"n":8},{"x":100,"y":66,"n":8},{"x":101,"y":66,"n":8},{"x":102,"y":66,"n":13},{"x":103,"y":66,"n":3},{"x":104,"y":66,"n":8},{"x":105,"y":66,"n":8},{"x":106,"y":66,"n":3},{"x":107,"y":66,"n":18},{"x":108,"y":66,"n":8},{"x":109,"y":66,"n":8},
{"x":60,"y":65,"n":13},{"x":61,"y":65,"n":8},{"x":62,"y":65,"n":13},{"x":63,"y":65,"n":8},{"x":64,"y":65,"n":18},{"x":65,"y":65,"n":18},{"x":66,"y":65,"n":8},{"x":67,"y":65,"n":8},{"x":68,"y":65,"n":13},{"x":69,"y":65,"n":8},{"x":70,"y":65,"n":18},{"x":71,"y":65,"n":18},{"x":72,"y":65,"n":18},{"x":73,"y":65,"n":13},{"x":74,"y":65,"n":18},{"x":75,"y":65,"n":13},{"x":76,"y":65,"n":18},{"x":77,"y":65,"n":24},{"x":78,"y":65,"n":29},{"x":79,"y":65,"n":24},{"x":80,"y":65,"n":18},{"x":81,"y":65,"n":13},{"x":82,"y":65,"n":24},{"x":83,"y":65,"n":18},{"x":84,"y":65,"n":13},{"x":85,"y":65,"n":18},{"x":86,"y":65,"n":29},{"x":87,"y":65,"n":24},{"x":88,"y":65,"n":24},{"x":89,"y":65,"n":13},{"x":90,"y":65,"n":13},{"x":91,"y":65,"n":18},{"x":92,"y":65,"n":8},{"x":93,"y":65,"n":13},{"x":94,"y":65,"n":13},{"x":95,"y":65,"n":8},{"x":96,"y":65,"n":8},{"x":97,"y":65,"n":8},{"x":98,"y":65,"n":13},{"x":99,"y":65,"n":8},{"x":100,"y":65,"n":3},{"x":101,"y":65,"n":8},{"x":102,"y":65,"n":8},{"x":103,"y":65,"n":8},{"x":104,"y":65,"n":8},{"x":105,"y":65,"n":3},{"x":106,"y":65,"n":13},{"x":107,"y":65,"n":3},{"x":108,"y":65,"n":8},{"x":109,"y":65,"n":13},
{"x":60,"y":64,"n":13},{"x":61,"y":64,"n":13},{"x":62,"y":64,"n":13},{"x":63,"y":64,"n":8},{"x":64,"y":64,"n":8},{"x":65,"y":64,"n":24},{"x":66,"y":64,"n":8},{"x":67,"y":64,"n":8},{"x":68,"y":64,"n":18},{"x":69,"y":64,"n":18},{"x":70,"y":64,"n":13},{"x":71,"y":64,"n":13},{"x":72,"y":64,"n":18},{"x":73,"y":64,"n":13},{"x":74,"y":64,"n":18},{"x":75,"y":64,"n":29},{"x":76,"y":64,"n":24},{"x":77,"y":64,"n":13},{"x":78,"y":64,"n":18},{"x":79,"y":64,"n":24},{"x":80,"y":64,"n":18},{"x":81,"y":64,"n":13},{"x":82,"y":64,"n":18},{"x":83,"y":64,"n":18},{"x":84,"y":64,"n":24},{"x":85,"y":64,"n":24},{"x":86,"y":64,"n":13},{"x":87,"y":64,"n":24},{"x":88,"y":64,"n":13},{"x":89,"y":64,"n":13},{"x":90,"y":64,"n":13},{"x":91,"y":64,"n":13},{"x":92,"y":64,"n":18},{"x":93,"y":64,"n":18},{"x":94,"y":64,"n":8},{"x":95,"y":64,"n":8},{"x":96,"y":64,"n":18},{"x":97,"y":64,"n":8},{"x":98,"y":64,"n":8},{"x":99,"y":64,"n":18},{"x":100,"y":64,"n":8},{"x":101,"y":64,"n":18},{"x":102,"y":64,"n":13},{"x":103,"y":64,"n":3},{"x":104,"y":64,"n":8},{"x":105,"y":64,"n":8},{"x":106,"y":64,"n":3},{"x":107,"y":64,"n":8},{"x":108,"y":64,"n":8},{"x":109,"y":64,"n":8},
{"x":60,"y":63,"n":8},{"x":61,"y":63,"n":13},{"x":62,"y":63,"n":13},{"x":63,"y":63,"n":8},{"x":64,"y":63,"n":13},{"x":65,"y":63,"n":18},{"x":66,"y":63,"n":8},{"x":67,"y":63,"n":18},{"x":68,"y":63,"n":13},{"x":69,"y":63,"n":13},{"x":70,"y":63,"n":18},{"x":71,"y":63,"n":18},{"x":72,"y":63,"n":18},{"x":73,"y":63,"n":18},{"x":74,"y":63,"n":18},{"x":75,"y":63,"n":13},{"x":76,"y":63,"n":24},{"x":77,"y":63,"n":18},{"x":78,"y":63,"n":18},{"x":79,"y":63,"n":18},{"x":80,"y":63,"n":18},{"x":81,"y":63,"n":13},{"x":82,"y":63,"n":24},{"x":83,"y":63,"n":18},{"x":84,"y":63,"n":18},{"x":85,"y":63,"n":13},{"x":86,"y":63,"n":18},{"x":87,"y":63,"n":8},{"x":88,"y":63,"n":8},{"x":89,"y":63,"n":18},{"x":90,"y":63,"n":13},{"x":91,"y":63,"n":13},{"x":92,"y":63,"n":8},{"x":93,"y":63,"n":8},{"x":94,"y":63,"n":3},{"x":95,"y":63,"n":8},{"x":96,"y":63,"n":18},{"x":97,"y":63,"n":8},{"x":98,"y":63,"n":8},{"x":99,"y":63,"n":13},{"x":100,"y":63,"n":8},{"x":101,"y":63,"n":8},{"x":102,"y":63,"n":18},{"x":103,"y":63,"n":8},{"x":104,"y":63,"n":3},{"x":105,"y":63,"n":13},{"x":106,"y":63,"n":8},{"x":107,"y":63,"n":3},{"x":108,"y":63,"n":3},{"x":109,"y":63,"n":8},
{"x":60,"y":62,"n":13},{"x":61,"y":62,"n":13},{"x":62,"y":62,"n":18},{"x":63,"y":62,"n":18},{"x":64,"y":62,"n":8},{"x":65,"y":62,"n":13},{"x":66,"y":62,"n":13},{"x":67,"y":62,"n":13},{"x":68,"y":62,"n":13},{"x":69,"y":62,"n":13},{"x":70,"y":62,"n":8},{"x":71,"y":62,"n":13},{"x":72,"y":62,"n":18},{"x":73,"y":62,"n":13},{"x":74,"y":62,"n":13},{"x":75,"y":62,"n":18},{"x":76,"y":62,"n":13},{"x":77,"y":62,"n":13},{"x":78,"y":62,"n":13},{"x":79,"y":62,"n":18},{"x":80,"y":62,"n":18},{"x":81,"y":62,"n":13},{"x":82,"y":62,"n":13},{"x":83,"y":62,"n":13},{"x":84,"y":62,"n":18},{"x":85,"y":62,"n":13},{"x":86,"y":62,"n":18},{"x":87,"y":62,"n":18},{"x":88,"y":62,"n":8},{"x":89,"y":62,"n":18},{"x":90,"y":62,"n":13},{"x":91,"y":62,"n":8},{"x":92,"y":62,"n":13},{"x":93,"y":62,"n":8},{"x":94,"y":62,"n":8},{"x":95,"y":62,"n":8},{"x":96,"y":62,"n":8},{"x":97,"y":62,"n":13},{"x":98,"y":62,"n":8},{"x":99,"y":62,"n":8},{"x":100,"y":62,"n":8},{"x":101,"y":62,"n":3},{"x":102,"y":62,"n":8},{"x":103,"y":62,"n":13},{"x":104,"y":62,"n":18},{"x":105,"y":62,"n":13},{"x":106,"y":62,"n":13},{"x":107,"y":62,"n":13},{"x":108,"y":62,"n":13},{"x":109,"y":62,"n":8},
{"x":60,"y":61,"n":18},{"x":61,"y":61,"n":18},{"x":62,"y":61,"n":13},{"x":63,"y":61,"n":8},{"x":64,"y":61,"n":18},{"x":65,"y":61,"n":8},{"x":66,"y":61,"n":8},{"x":67,"y":61,"n":8},{"x":68,"y":61,"n":8},{"x":69,"y":61,"n":18},{"x":70,"y":61,"n":13},{"x":71,"y":61,"n":13},{"x":72,"y":61,"n":18},{"x":73,"y":61,"n":13},{"x":74,"y":61,"n":18},{"x":75,"y":61,"n":18},{"x":76,"y":61,"n":24},{"x":77,"y":61,"n":18},{"x":78,"y":61,"n":13},{"x":79,"y":61,"n":18},{"x":80,"y":61,"n":13},{"x":81,"y":61,"n":18},{"x":82,"y":61,"n":13},{"x":83,"y":61,"n":8},{"x":84,"y":61,"n":24},{"x":85,"y":61,"n":13},{"x":86,"y":61,"n":18},{"x":87,"y":61,"n":8},{"x":88,"y":61,"n":13},{"x":89,"y":61,"n":13},{"x":90,"y":61,"n":18},{"x":91,"y":61,"n":13},{"x":92,"y":61,"n":8},{"x":93,"y":61,"n":18},{"x":94,"y":61,"n":18},{"x":95,"y":61,"n":8},{"x":96,"y":61,"n":13},{"x":97,"y":61,"n":8},{"x":98,"y":61,"n":8},{"x":99,"y":61,"n":3},{"x":100,"y":61,"n":8},{"x":101,"y":61,"n":3},{"x":102,"y":61,"n":8},{"x":103,"y":61,"n":13},{"x":104,"y":61,"n":8},{"x":105,"y":61,"n":8},{"x":106,"y":61,"n":8},{"x":107,"y":61,"n":8},{"x":108,"y":61,"n":3},{"x":109,"y":61,"n":18},
{"x":60,"y":60,"n":13},{"x":61,"y":60,"n":8},{"x":62,"y":60,"n":8},{"x":63,"y":60,"n":24},{"x":64,"y":60,"n":8},{"x":65,"y":60,"n":13},{"x":66,"y":60,"n":8},{"x":67,"y":60,"n":13},{"x":68,"y":60,"n":8},{"x":69,"y":60,"n":18},{"x":70,"y":60,"n":8},{"x":71,"y":60,"n":13},{"x":72,"y":60,"n":8},{"x":73,"y":60,"n":18},{"x":74,"y":60,"n":13},{"x":75,"y":60,"n":13},{"x":76,"y":60,"n":8},{"x":77,"y":60,"n":8},{"x":78,"y":60,"n":13},{"x":79,"y":60,"n":18},{"x":80,"y":60,"n":24},{"x":81,"y":60,"n":29},{"x":82,"y":60,"n":8},{"x":83,"y":60,"n":13},{"x":84,"y":60,"n":8},{"x":85,"y":60,"n":13},{"x":86,"y":60,"n":29},{"x":87,"y":60,"n":13},{"x":88,"y":60,"n":13},{"x":89,"y":60,"n":8},{"x":90,"y":60,"n":18},{"x":91,"y":60,"n":13},{"x":92,"y":60,"n":8},{"x":93,"y":60,"n":13},{"x":94,"y":60,"n":13},{"x":95,"y":60,"n":8},{"x":96,"y":60,"n":8},{"x":97,"y":60,"n":8},{"x":98,"y":60,"n":13},{"x":99,"y":60,"n":13},{"x":100,"y":60,"n":8},{"x":101,"y":60,"n":8},{"x":102,"y":60,"n":8},{"x":103,"y":60,"n":3},{"x":104,"y":60,"n":8},{"x":105,"y":60,"n":8},{"x":106,"y":60,"n":8},{"x":107,"y":60,"n":8},{"x":108,"y":60,"n":13},{"x":109,"y":60,"n":8}
]},"mark":{"type":"rect"},"encoding":{"x":{"field":"x","type":"quantitative","bin":{"binned":true,"step":1},"scale":{"domain":[60,110],"nice":false},"axis":{"values":[60,62,64,66,68,70,72,74,76,78,80,82,84,86,88,90,92,94,96,98,100,102,104,106,108,110],"labelExpr":"datum.value%10==0?datum.value:''","grid":false,"domain":false,"tickColor":"black","tickWidth":2,"tickSize":{"condition":{"test":"datum.value%10==0","value":-11},"value":-5},"labelFontSize":29.7,"labelColor":"black","labelPadding":23,"labelFlush":false,"labelOverlap":false,"title":"Invariant mass [GeV]","titleFontSize":35.7,"titleFontWeight":"normal","titleColor":"black","titleAnchor":"end","titlePadding":-3}},"y":{"field":"y","type":"quantitative","bin":{"binned":true,"step":1},"scale":{"domain":[60,110],"nice":false},"axis":{"values":[60,62,64,66,68,70,72,74,76,78,80,82,84,86,88,90,92,94,96,98,100,102,104,106,108,110],"labelExpr":"datum.value%10==0?datum.value:''","grid":false,"domain":false,"tickColor":"black","tickWidth":2,"tickSize":{"condition":{"test":"datum.value%10==0","value":-17},"value":-8},"labelFontSize":29.7,"labelColor":"black","labelPadding":29,"labelOffset":5,"labelOverlap":false,"title":"Invariant mass [GeV]","titleFontSize":35.7,"titleFontWeight":"normal","titleColor":"black","titleAnchor":"end","titlePadding":19}},"color":{"field":"n","type":"quantitative","legend":null,"scale":{"type":"quantize","domain":[0,104.6],"nice":false,"range":["#6600ff","#3300ff","#0019ff","#004cff","#0088ff","#00b2ff","#00ffff","#00ffcc","#00ff80","#00ff4c","#00ff00","#33ff00","#66ff00","#99ff00","#ddff00","#ffe500","#ffa500","#ff7000","#ff3300","#ff0000"]}}}},{"data":{"values":[{"x":60,"y":60}]},"mark":{"type":"rect","opacity":0},"encoding":{"x":{"field":"x","type":"quantitative","bin":{"binned":true,"step":1},"scale":{"domain":[60,110],"nice":false},"axis":{"orient":"top","values":[60,62,64,66,68,70,72,74,76,78,80,82,84,86,88,90,92,94,96,98,100,102,104,106,108,110],"labels":false,"grid":false,"domain":false,"tickColor":"black","tickWidth":2,"tickSize":{"condition":{"test":"datum.value%10==0","value":-11},"value":-5},"title":null}},"y":{"field":"y","type":"quantitative","bin":{"binned":true,"step":1},"scale":{"domain":[60,110],"nice":false},"axis":{"orient":"right","values":[60,62,64,66,68,70,72,74,76,78,80,82,84,86,88,90,92,94,96,98,100,102,104,106,108,110],"labels":false,"grid":false,"domain":false,"tickColor":"black","tickWidth":2,"tickSize":{"condition":{"test":"datum.value%10==0","value":-17},"value":-8},"title":null}}}}],"resolve":{"axis":{"x":"independent","y":"independent"}}},{"width":37,"height":406,"data":{"values":[{"lo":0,"hi":5.23},{"lo":5.23,"hi":10.46},{"lo":10.46,"hi":15.69},{"lo":15.69,"hi":20.92},{"lo":20.92,"hi":26.15},{"lo":26.15,"hi":31.38},{"lo":31.38,"hi":36.61},{"lo":36.61,"hi":41.84},{"lo":41.84,"hi":47.07},{"lo":47.07,"hi":52.3},{"lo":52.3,"hi":57.53},{"lo":57.53,"hi":62.76},{"lo":62.76,"hi":67.99},{"lo":67.99,"hi":73.22},{"lo":73.22,"hi":78.45},{"lo":78.45,"hi":83.68},{"lo":83.68,"hi":88.91},{"lo":88.91,"hi":94.14},{"lo":94.14,"hi":99.37},{"lo":99.37,"hi":104.6}]},"mark":{"type":"rect"},"encoding":{"x":{"value":0},"x2":{"value":37},"y":{"field":"lo","type":"quantitative","scale":{"domain":[0,104.6],"nice":false},"axis":{"orient":"right","values":[0,20,40,60,80,100],"grid":false,"domain":true,"domainColor":"black","domainWidth":2,"tickColor":"black","tickWidth":2,"tickSize":-17,"labelFontSize":29.7,"labelColor":"black","labelPadding":27,"labelOffset":5,"title":null}},"y2":{"field":"hi"},"color":{"field":"lo","type":"quantitative","legend":null,"scale":{"type":"quantize","domain":[0,104.6],"nice":false,"range":["#6600ff","#3300ff","#0019ff","#004cff","#0088ff","#00b2ff","#00ffff","#00ffcc","#00ff80","#00ff4c","#00ff00","#33ff00","#66ff00","#99ff00","#ddff00","#ffe500","#ffa500","#ff7000","#ff3300","#ff0000"]}}}}],"resolve":{"scale":{"color":"independent"}}}
